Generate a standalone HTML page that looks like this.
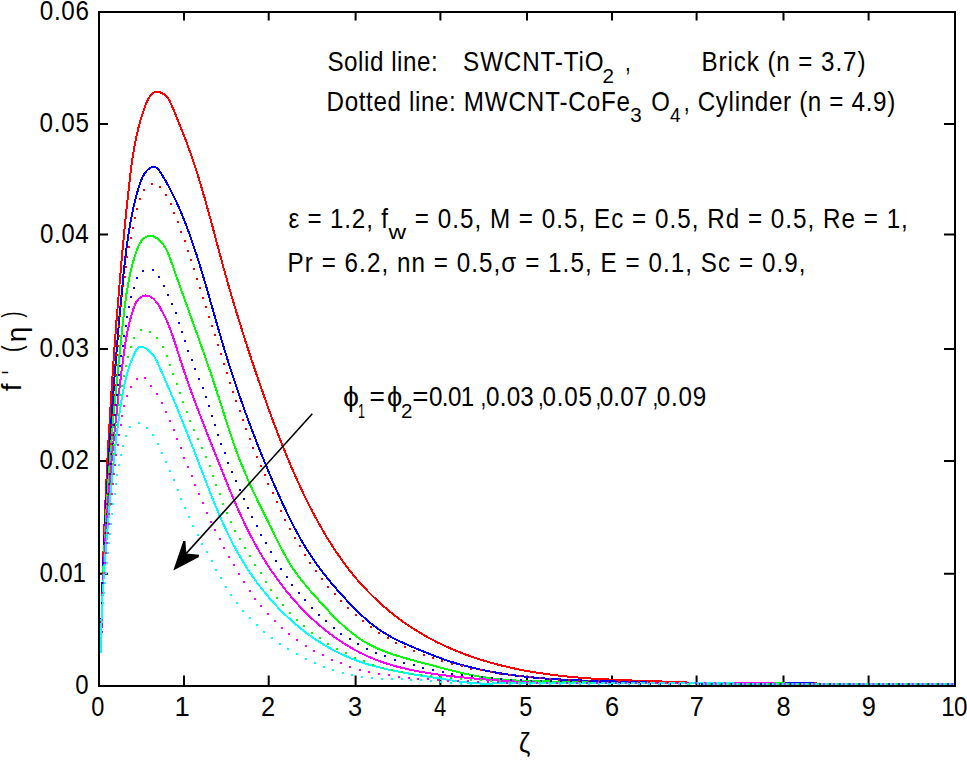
<!DOCTYPE html>
<html><head><meta charset="utf-8"><title>plot</title><style>html,body{margin:0;padding:0;background:#fff;}body{width:967px;height:760px;overflow:hidden;}svg{display:block;}</style></head><body><svg width="967" height="760" viewBox="0 0 967 760">
<rect x="0" y="0" width="967" height="760" fill="#fff"/>
<path d="M184.0 686.0V675.5M184.0 12.0V20.5M268.7 686.0V675.5M268.7 12.0V20.5M355.6 686.0V675.5M355.6 12.0V20.5M440.4 686.0V675.5M440.4 12.0V20.5M527.0 686.0V675.5M527.0 12.0V20.5M612.0 686.0V675.5M612.0 12.0V20.5M696.6 686.0V675.5M696.6 12.0V20.5M783.5 686.0V675.5M783.5 12.0V20.5M868.6 686.0V675.5M868.6 12.0V20.5M99.0 573.8H108.0M955.0 573.8H944.0M99.0 461.1H108.0M955.0 461.1H944.0M99.0 348.9H108.0M955.0 348.9H944.0M99.0 234.5H108.0M955.0 234.5H944.0M99.0 124.0H108.0M955.0 124.0H944.0" stroke="#000" stroke-width="2" fill="none"/>
<defs><clipPath id="pc"><rect x="100" y="13" width="854" height="672"/></clipPath></defs><g clip-path="url(#pc)" shape-rendering="crispEdges" fill="none" stroke-width="2" stroke-linejoin="miter" stroke-linecap="butt"><path d="M101.0 653.0L101.0 651.5L101.0 650.0L101.1 648.5L101.1 647.0L101.1 645.5L101.1 644.0L101.2 642.5L101.2 641.0L101.2 639.5L101.2 638.0L101.3 636.5L101.3 635.0L101.3 633.5L101.3 632.0L101.4 630.5L101.4 629.0L101.4 627.5L101.4 626.0L101.5 624.5L101.5 623.0L101.5 621.5L101.6 620.0L101.6 618.5L101.6 617.0L101.7 615.5L101.7 614.0L101.7 612.5L101.8 611.0L101.8 609.5L101.8 608.0L101.9 606.5L101.9 605.0L101.9 603.5L102.0 602.0L102.0 600.5L102.0 599.0L102.1 597.5L102.1 596.0L102.2 594.5L102.2 593.0L102.2 591.5L102.3 590.0L102.3 588.5L102.4 587.0L102.4 585.6L102.4 584.1L102.5 582.6L102.5 581.1L102.6 579.6L102.6 578.1L102.7 576.6L102.7 575.1L102.7 573.6L102.8 572.1L102.8 570.6L102.9 569.1L102.9 567.6L103.0 566.1L103.0 564.6L103.1 563.1L103.1 561.6L103.2 560.1L103.2 558.6L103.3 557.1L103.3 555.6L103.4 554.1L103.4 552.6L103.5 551.1L103.5 549.6L103.6 548.1L103.6 546.6L103.7 545.1L103.7 543.6L103.8 542.1L103.8 540.6L103.9 539.1L104.0 537.6L104.0 536.1L104.1 534.6L104.1 533.1L104.2 531.6L104.2 530.1L104.3 528.6L104.4 527.1L104.4 525.6L104.5 524.1L104.5 522.6L104.6 521.1L104.7 519.6L104.7 518.1L104.8 516.6L104.8 515.1L104.9 513.6L105.0 512.1L105.0 510.6L105.1 509.1L105.2 507.6L105.2 506.1L105.3 504.6L105.4 503.1L105.4 501.6L105.5 500.2L105.6 498.7L105.6 497.2L105.7 495.7L105.8 494.2L105.8 492.7L105.9 491.2L106.0 489.7L106.0 488.2L106.1 486.7L106.2 485.2L106.2 483.7L106.3 482.2L106.4 480.7L106.5 479.2L106.5 477.7L106.6 476.2L106.7 474.7L106.8 473.2L106.8 471.7L106.9 470.2L107.0 468.7L107.1 467.2L107.1 465.7L107.2 464.2L107.3 462.7L107.4 461.2L107.4 459.7L107.5 458.2L107.6 456.7L107.7 455.2L107.8 453.7L107.8 452.2L107.9 450.7L108.0 449.2L108.1 447.7L108.2 446.2L108.3 444.7L108.3 443.3L108.4 441.8L108.5 440.3L108.6 438.8L108.7 437.3L108.8 435.8L108.8 434.3L108.9 432.8L109.0 431.3L109.1 429.8L109.2 428.3L109.3 426.8L109.4 425.3L109.5 423.8L109.5 422.3L109.6 420.8L109.7 419.3L109.8 417.8L109.9 416.3L110.0 414.8L110.1 413.3L110.2 411.8L110.3 410.3L110.4 408.8L110.5 407.3L110.5 405.8L110.6 404.3L110.7 402.8L110.8 401.3L110.9 399.9L111.0 398.4L111.1 396.9L111.2 395.4L111.3 393.9L111.4 392.4L111.5 390.9L111.6 389.4L111.7 387.9L111.8 386.4L111.9 384.9L112.0 383.4L112.1 381.9L112.2 380.4L112.3 378.9L112.4 377.4L112.5 375.9L112.6 374.4L112.7 372.9L112.8 371.4L112.9 369.9L113.0 368.4L113.1 366.9L113.2 365.4L113.3 364.0L113.4 362.5L113.5 361.0L113.6 359.5L113.8 358.0L113.9 356.5L114.0 355.0L114.1 353.5L114.2 352.0L114.3 350.5L114.4 349.0L114.5 347.5L114.6 346.0L114.7 344.5L114.8 343.0L114.9 341.5L115.1 340.0L115.2 338.5L115.3 337.0L115.4 335.5L115.5 334.0L115.6 332.6L115.7 331.1L115.9 329.6L116.0 328.1L116.1 326.6L116.2 325.1L116.3 323.6L116.4 322.1L116.5 320.6L116.7 319.1L116.8 317.6L116.9 316.1L117.0 314.6L117.1 313.1L117.3 311.6L117.4 310.1L117.5 308.6L117.6 307.1L117.7 305.6L117.9 304.2L118.0 302.7L118.1 301.2L118.2 299.7L118.3 298.2L118.5 296.7L118.6 295.2L118.7 293.7L118.8 292.2L119.0 290.7L119.1 289.2L119.2 287.7L119.3 286.2L119.5 284.7L119.6 283.2L119.7 281.7L119.8 280.2L120.0 278.8L120.1 277.3L120.2 275.8L120.4 274.3L120.5 272.8L120.6 271.3L120.7 269.8L120.9 268.3L121.0 266.8L121.1 265.3L121.3 263.8L121.4 262.3L121.5 260.8L121.7 259.3L121.8 257.8L122.0 256.4L122.1 254.9L122.2 253.4L122.4 251.9L122.5 250.4L122.6 248.9L122.8 247.4L122.9 245.9L123.1 244.4L123.2 242.9L123.3 241.4L123.5 239.9L123.6 238.4L123.8 236.9L123.9 235.5L124.0 234.0L124.2 232.5L124.3 231.0L124.5 229.5L124.6 228.0L124.8 226.5L124.9 225.0L125.1 223.5L125.2 222.0L125.4 220.5L125.5 219.0L125.7 217.6L125.8 216.1L126.0 214.6L126.1 213.1L126.3 211.6L126.4 210.1L126.6 208.6L126.7 207.1L126.9 205.6L127.1 204.1L127.2 202.6L127.4 201.1L127.5 199.7L127.7 198.2L127.8 196.7L128.0 195.2L128.2 193.7L128.3 192.2L128.5 190.7L128.7 189.2L128.8 187.7L129.0 186.2L129.1 184.8L129.3 183.3L129.5 181.8L129.6 180.3L129.8 178.8L130.0 177.3L130.2 175.8L130.3 174.3L130.5 172.8L130.7 171.4L130.9 169.9L131.1 168.4L131.3 166.9L131.5 165.4L131.7 163.9L131.9 162.4L132.1 160.9L132.3 159.5L132.5 158.0L132.8 156.5L133.0 155.0L133.2 153.5L133.5 152.1L133.7 150.6L134.0 149.1L134.2 147.6L134.5 146.2L134.8 144.7L135.0 143.2L135.3 141.7L135.6 140.3L135.9 138.8L136.2 137.3L136.6 135.9L136.9 134.4L137.2 132.9L137.6 131.5L137.9 130.0L138.3 128.6L138.6 127.1L139.0 125.7L139.4 124.2L139.8 122.8L140.2 121.3L140.6 119.9L141.0 118.4L141.5 117.0L141.9 115.6L142.4 114.1L142.8 112.7L143.3 111.3L143.8 109.9L144.3 108.5L144.8 107.0L145.3 105.6L145.8 104.2L146.4 102.8L147.0 101.5L147.6 100.1L148.3 98.8L149.1 97.5L149.9 96.2L150.8 95.1L151.9 94.0L153.1 93.1L154.4 92.4L155.8 92.0L157.3 91.9L158.8 92.0L160.3 92.4L161.6 93.0L163.0 93.7L164.2 94.5L165.4 95.5L166.5 96.5L167.5 97.6L168.4 98.8L169.2 100.0L169.9 101.4L170.5 102.7L171.1 104.1L171.7 105.5L172.3 106.9L172.9 108.2L173.5 109.6L174.0 111.0L174.6 112.4L175.2 113.8L175.8 115.2L176.3 116.6L176.9 117.9L177.5 119.3L178.0 120.7L178.6 122.1L179.2 123.5L179.7 124.9L180.3 126.3L180.8 127.7L181.4 129.1L182.0 130.5L182.5 131.9L183.0 133.2L183.6 134.6L184.1 136.0L184.7 137.4L185.2 138.8L185.7 140.2L186.3 141.6L186.8 143.1L187.3 144.5L187.8 145.9L188.3 147.3L188.9 148.7L189.4 150.1L189.9 151.5L190.4 152.9L190.9 154.3L191.4 155.7L191.9 157.2L192.3 158.6L192.8 160.0L193.3 161.4L193.8 162.8L194.3 164.3L194.7 165.7L195.2 167.1L195.7 168.5L196.1 170.0L196.6 171.4L197.0 172.8L197.5 174.2L197.9 175.7L198.4 177.1L198.8 178.5L199.3 180.0L199.7 181.4L200.1 182.8L200.6 184.3L201.0 185.7L201.4 187.2L201.9 188.6L202.3 190.0L202.7 191.5L203.1 192.9L203.5 194.3L204.0 195.8L204.4 197.2L204.8 198.7L205.2 200.1L205.6 201.6L206.0 203.0L206.4 204.4L206.8 205.9L207.2 207.3L207.6 208.8L208.0 210.2L208.4 211.7L208.8 213.1L209.2 214.5L209.6 216.0L210.0 217.4L210.4 218.9L210.8 220.3L211.2 221.8L211.6 223.2L212.0 224.7L212.4 226.1L212.8 227.6L213.1 229.0L213.5 230.5L213.9 231.9L214.3 233.4L214.7 234.8L215.1 236.3L215.5 237.7L215.8 239.2L216.2 240.6L216.6 242.1L217.0 243.5L217.4 245.0L217.8 246.4L218.2 247.9L218.6 249.3L218.9 250.7L219.3 252.2L219.7 253.6L220.1 255.1L220.5 256.5L220.9 258.0L221.3 259.4L221.7 260.9L222.1 262.3L222.5 263.8L222.9 265.2L223.2 266.7L223.6 268.1L224.0 269.6L224.4 271.0L224.8 272.4L225.2 273.9L225.6 275.3L226.1 276.8L226.5 278.2L226.9 279.7L227.3 281.1L227.7 282.6L228.1 284.0L228.5 285.4L228.9 286.9L229.3 288.3L229.7 289.8L230.2 291.2L230.6 292.6L231.0 294.1L231.4 295.5L231.8 297.0L232.3 298.4L232.7 299.8L233.1 301.3L233.6 302.7L234.0 304.1L234.4 305.6L234.8 307.0L235.3 308.4L235.7 309.9L236.1 311.3L236.6 312.8L237.0 314.2L237.5 315.6L237.9 317.1L238.3 318.5L238.8 319.9L239.2 321.3L239.7 322.8L240.1 324.2L240.6 325.6L241.0 327.1L241.5 328.5L241.9 329.9L242.4 331.4L242.8 332.8L243.3 334.2L243.7 335.7L244.2 337.1L244.6 338.5L245.1 339.9L245.5 341.4L246.0 342.8L246.5 344.2L246.9 345.6L247.4 347.1L247.9 348.5L248.3 349.9L248.8 351.3L249.3 352.8L249.7 354.2L250.2 355.6L250.7 357.0L251.1 358.5L251.6 359.9L252.1 361.3L252.6 362.7L253.0 364.2L253.5 365.6L254.0 367.0L254.5 368.4L255.0 369.8L255.4 371.3L255.9 372.7L256.4 374.1L256.9 375.5L257.4 376.9L257.9 378.3L258.3 379.8L258.8 381.2L259.3 382.6L259.8 384.0L260.3 385.4L260.8 386.9L261.3 388.3L261.8 389.7L262.3 391.1L262.8 392.5L263.3 393.9L263.8 395.3L264.3 396.8L264.8 398.2L265.3 399.6L265.8 401.0L266.3 402.4L266.8 403.8L267.3 405.2L267.8 406.6L268.3 408.1L268.8 409.5L269.3 410.9L269.8 412.3L270.3 413.7L270.8 415.1L271.4 416.5L271.9 417.9L272.4 419.3L272.9 420.7L273.4 422.1L274.0 423.5L274.5 424.9L275.0 426.3L275.6 427.7L276.1 429.1L276.6 430.5L277.2 431.9L277.7 433.3L278.2 434.7L278.8 436.1L279.3 437.5L279.9 438.9L280.4 440.3L281.0 441.7L281.5 443.1L282.1 444.5L282.6 445.9L283.2 447.3L283.7 448.7L284.3 450.1L284.9 451.5L285.4 452.9L286.0 454.2L286.6 455.6L287.1 457.0L287.7 458.4L288.3 459.8L288.9 461.2L289.5 462.5L290.1 463.9L290.6 465.3L291.2 466.7L291.8 468.1L292.4 469.4L293.0 470.8L293.6 472.2L294.2 473.6L294.8 474.9L295.4 476.3L296.1 477.7L296.7 479.0L297.3 480.4L297.9 481.8L298.5 483.1L299.2 484.5L299.8 485.8L300.4 487.2L301.1 488.6L301.7 489.9L302.3 491.3L303.0 492.6L303.6 494.0L304.3 495.3L304.9 496.7L305.6 498.0L306.3 499.4L306.9 500.7L307.6 502.1L308.3 503.4L308.9 504.7L309.6 506.1L310.3 507.4L311.0 508.7L311.7 510.1L312.3 511.4L313.0 512.7L313.7 514.1L314.4 515.4L315.2 516.7L315.9 518.0L316.6 519.3L317.3 520.7L318.0 522.0L318.7 523.3L319.5 524.6L320.2 525.9L320.9 527.2L321.7 528.5L322.4 529.8L323.2 531.1L323.9 532.4L324.7 533.7L325.5 535.0L326.2 536.3L327.0 537.6L327.8 538.8L328.6 540.1L329.4 541.4L330.2 542.7L331.0 543.9L331.8 545.2L332.6 546.4L333.4 547.7L334.2 549.0L335.1 550.2L335.9 551.5L336.7 552.7L337.6 553.9L338.4 555.2L339.3 556.4L340.1 557.6L341.0 558.9L341.9 560.1L342.7 561.3L343.6 562.5L344.5 563.7L345.4 564.9L346.3 566.1L347.2 567.3L348.1 568.5L349.1 569.7L350.0 570.9L350.9 572.0L351.8 573.2L352.8 574.4L353.7 575.5L354.7 576.7L355.7 577.8L356.6 579.0L357.6 580.1L358.6 581.3L359.6 582.4L360.6 583.5L361.6 584.6L362.6 585.7L363.6 586.8L364.6 587.9L365.6 589.0L366.7 590.1L367.7 591.2L368.8 592.3L369.8 593.3L370.9 594.4L371.9 595.5L373.0 596.5L374.1 597.5L375.2 598.6L376.2 599.6L377.3 600.6L378.4 601.7L379.5 602.7L380.6 603.7L381.8 604.7L382.9 605.7L384.0 606.7L385.1 607.6L386.3 608.6L387.4 609.6L388.6 610.6L389.7 611.5L390.9 612.5L392.1 613.4L393.2 614.3L394.4 615.3L395.6 616.2L396.8 617.1L398.0 618.0L399.2 618.9L400.4 619.8L401.6 620.7L402.8 621.5L404.0 622.4L405.3 623.3L406.5 624.1L407.7 625.0L409.0 625.8L410.2 626.7L411.5 627.5L412.7 628.3L414.0 629.1L415.3 629.9L416.5 630.7L417.8 631.5L419.1 632.3L420.4 633.0L421.7 633.8L423.0 634.6L424.3 635.3L425.6 636.1L426.9 636.8L428.2 637.5L429.5 638.2L430.8 638.9L432.1 639.6L433.5 640.3L434.8 641.0L436.1 641.7L437.5 642.4L438.8 643.0L440.2 643.7L441.5 644.3L442.9 645.0L444.2 645.6L445.6 646.2L447.0 646.9L448.3 647.5L449.7 648.1L451.1 648.7L452.5 649.3L453.8 649.9L455.2 650.4L456.6 651.0L458.0 651.6L459.4 652.1L460.8 652.7L462.2 653.2L463.6 653.7L465.0 654.3L466.4 654.8L467.8 655.3L469.2 655.8L470.6 656.3L472.0 656.8L473.5 657.3L474.9 657.8L476.3 658.2L477.7 658.7L479.2 659.2L480.6 659.6L482.0 660.1L483.4 660.5L484.9 660.9L486.3 661.4L487.8 661.8L489.2 662.2L490.6 662.6L492.1 663.0L493.5 663.4L495.0 663.8L496.4 664.2L497.9 664.6L499.3 665.0L500.8 665.3L502.2 665.7L503.7 666.0L505.1 666.4L506.6 666.7L508.1 667.1L509.5 667.4L511.0 667.7L512.5 668.1L513.9 668.4L515.4 668.7L516.9 669.0L518.3 669.3L519.8 669.6L521.3 669.9L522.7 670.2L524.2 670.5L525.7 670.7L527.2 671.0L528.6 671.3L530.1 671.5L531.6 671.8L533.1 672.0L534.5 672.3L536.0 672.5L537.5 672.7L539.0 673.0L540.5 673.2L542.0 673.4L543.4 673.6L544.9 673.8L546.4 674.0L547.9 674.2L549.4 674.4L550.9 674.6L552.4 674.8L553.8 675.0L555.3 675.2L556.8 675.4L558.3 675.5L559.8 675.7L561.3 675.9L562.8 676.0L564.3 676.2L565.8 676.3L567.3 676.5L568.7 676.6L570.2 676.8L571.7 676.9L573.2 677.1L574.7 677.2L576.2 677.3L577.7 677.5L579.2 677.6L580.7 677.7L582.2 677.8L583.7 677.9L585.2 678.0L586.7 678.2L588.2 678.3L589.7 678.4L591.2 678.5L592.7 678.6L594.1 678.7L595.6 678.8L597.1 678.8L598.6 678.9L600.1 679.0L601.6 679.1L603.1 679.2L604.6 679.3L606.1 679.4L607.6 679.4L609.1 679.5L610.6 679.6L612.1 679.7L613.6 679.7L615.1 679.8L616.6 679.9L618.1 679.9L619.6 680.0L621.1 680.1L622.6 680.1L624.1 680.2L625.6 680.2L627.1 680.3L628.6 680.4L630.1 680.4L631.6 680.5L633.1 680.5L634.6 680.6L636.1 680.6L637.6 680.7L639.1 680.7L640.6 680.8L642.1 680.8L643.6 680.9L645.1 680.9L646.6 681.0L648.1 681.0L649.6 681.1L651.1 681.1L652.6 681.2L654.1 681.2L655.6 681.3L657.1 681.3L658.6 681.4L660.1 681.4L661.6 681.5L663.0 681.5L664.5 681.6L666.0 681.6L667.5 681.7L669.0 681.8L670.5 681.8L672.0 681.9L673.5 681.9L675.0 682.0L676.5 682.0L678.0 682.1L679.5 682.2L681.0 682.2L682.5 682.3L684.0 682.3L685.5 682.4L687.0 682.5L688.5 682.5L690.0 682.6L691.5 682.7L693.0 682.8L694.5 682.8L696.0 682.9L697.5 683.0L699.0 683.1L960.0 684.0" stroke="#ff0000"/><path d="M101.0 653.0L101.0 651.5L101.0 650.0L101.0 648.5L101.0 647.0L101.1 645.5L101.1 644.0L101.1 642.5L101.1 641.0L101.1 639.5L101.1 638.0L101.2 636.5L101.2 635.0L101.2 633.5L101.2 632.0L101.3 630.5L101.3 629.0L101.3 627.5L101.3 626.0L101.4 624.5L101.4 623.0L101.4 621.5L101.4 620.0L101.5 618.5L101.5 617.0L101.5 615.5L101.6 614.0L101.6 612.5L101.6 611.0L101.7 609.5L101.7 608.0L101.8 606.5L101.8 605.0L101.8 603.5L101.9 602.0L101.9 600.5L102.0 599.0L102.0 597.5L102.0 596.0L102.1 594.5L102.1 593.0L102.2 591.5L102.2 590.0L102.3 588.5L102.3 587.0L102.4 585.5L102.4 584.0L102.5 582.5L102.5 581.0L102.6 579.5L102.6 578.0L102.7 576.5L102.7 575.0L102.8 573.5L102.9 572.0L102.9 570.5L103.0 569.0L103.0 567.6L103.1 566.1L103.2 564.6L103.2 563.1L103.3 561.6L103.3 560.1L103.4 558.6L103.5 557.1L103.5 555.6L103.6 554.1L103.7 552.6L103.7 551.1L103.8 549.6L103.9 548.1L103.9 546.6L104.0 545.1L104.1 543.6L104.1 542.1L104.2 540.6L104.3 539.1L104.3 537.6L104.4 536.1L104.5 534.6L104.6 533.1L104.6 531.6L104.7 530.1L104.8 528.6L104.9 527.1L104.9 525.6L105.0 524.1L105.1 522.6L105.2 521.1L105.3 519.6L105.3 518.1L105.4 516.6L105.5 515.1L105.6 513.6L105.7 512.1L105.7 510.6L105.8 509.1L105.9 507.6L106.0 506.1L106.1 504.6L106.2 503.1L106.2 501.6L106.3 500.1L106.4 498.7L106.5 497.2L106.6 495.7L106.7 494.2L106.8 492.7L106.8 491.2L106.9 489.7L107.0 488.2L107.1 486.7L107.2 485.2L107.3 483.7L107.4 482.2L107.5 480.7L107.6 479.2L107.6 477.7L107.7 476.2L107.8 474.7L107.9 473.2L108.0 471.7L108.1 470.2L108.2 468.7L108.3 467.2L108.4 465.7L108.5 464.2L108.6 462.7L108.7 461.2L108.8 459.7L108.9 458.2L109.0 456.7L109.1 455.2L109.2 453.7L109.2 452.3L109.3 450.8L109.4 449.3L109.5 447.8L109.6 446.3L109.7 444.8L109.8 443.3L109.9 441.8L110.0 440.3L110.1 438.8L110.2 437.3L110.3 435.8L110.4 434.3L110.5 432.8L110.6 431.3L110.7 429.8L110.8 428.3L110.9 426.8L111.0 425.3L111.1 423.8L111.2 422.3L111.3 420.8L111.4 419.3L111.5 417.8L111.7 416.3L111.8 414.8L111.9 413.4L112.0 411.9L112.1 410.4L112.2 408.9L112.3 407.4L112.4 405.9L112.5 404.4L112.6 402.9L112.7 401.4L112.8 399.9L112.9 398.4L113.0 396.9L113.1 395.4L113.2 393.9L113.4 392.4L113.5 390.9L113.6 389.4L113.7 387.9L113.8 386.4L113.9 384.9L114.0 383.4L114.1 381.9L114.2 380.4L114.4 379.0L114.5 377.5L114.6 376.0L114.7 374.5L114.8 373.0L114.9 371.5L115.0 370.0L115.2 368.5L115.3 367.0L115.4 365.5L115.5 364.0L115.6 362.5L115.7 361.0L115.9 359.5L116.0 358.0L116.1 356.5L116.2 355.0L116.3 353.5L116.5 352.0L116.6 350.5L116.7 349.1L116.8 347.6L117.0 346.1L117.1 344.6L117.2 343.1L117.3 341.6L117.5 340.1L117.6 338.6L117.7 337.1L117.8 335.6L118.0 334.1L118.1 332.6L118.2 331.1L118.3 329.6L118.5 328.1L118.6 326.6L118.7 325.1L118.9 323.6L119.0 322.2L119.1 320.7L119.3 319.2L119.4 317.7L119.5 316.2L119.7 314.7L119.8 313.2L119.9 311.7L120.1 310.2L120.2 308.7L120.3 307.2L120.5 305.7L120.6 304.2L120.8 302.7L120.9 301.2L121.0 299.8L121.2 298.3L121.3 296.8L121.5 295.3L121.6 293.8L121.7 292.3L121.9 290.8L122.0 289.3L122.2 287.8L122.3 286.3L122.5 284.8L122.6 283.3L122.8 281.8L122.9 280.3L123.1 278.9L123.2 277.4L123.4 275.9L123.5 274.4L123.7 272.9L123.8 271.4L124.0 269.9L124.1 268.4L124.3 266.9L124.5 265.4L124.6 263.9L124.8 262.5L125.0 261.0L125.1 259.5L125.3 258.0L125.5 256.5L125.7 255.0L125.8 253.5L126.0 252.0L126.2 250.5L126.4 249.1L126.6 247.6L126.8 246.1L127.0 244.6L127.2 243.1L127.4 241.6L127.6 240.1L127.8 238.7L128.0 237.2L128.3 235.7L128.5 234.2L128.7 232.7L129.0 231.2L129.2 229.8L129.4 228.3L129.7 226.8L130.0 225.3L130.2 223.8L130.5 222.4L130.7 220.9L131.0 219.4L131.3 218.0L131.6 216.5L131.9 215.0L132.2 213.5L132.5 212.1L132.8 210.6L133.1 209.1L133.4 207.7L133.8 206.2L134.1 204.7L134.4 203.3L134.8 201.8L135.2 200.4L135.5 198.9L135.9 197.5L136.3 196.0L136.7 194.6L137.0 193.1L137.4 191.7L137.9 190.2L138.3 188.8L138.7 187.4L139.1 185.9L139.6 184.5L140.0 183.1L140.6 181.7L141.1 180.3L141.7 178.9L142.3 177.5L143.0 176.2L143.8 174.9L144.6 173.6L145.4 172.4L146.4 171.2L147.4 170.1L148.5 169.1L149.7 168.2L151.0 167.6L152.5 167.1L154.0 167.0L155.4 167.2L156.8 167.8L158.0 168.7L158.9 169.9L159.7 171.1L160.5 172.4L161.3 173.7L162.1 175.0L162.9 176.2L163.6 177.5L164.4 178.8L165.1 180.1L165.9 181.4L166.6 182.7L167.3 184.0L168.1 185.4L168.8 186.7L169.5 188.0L170.2 189.3L170.9 190.7L171.5 192.0L172.2 193.3L172.9 194.7L173.6 196.0L174.2 197.4L174.9 198.7L175.5 200.1L176.1 201.4L176.8 202.8L177.4 204.2L178.0 205.5L178.6 206.9L179.2 208.3L179.8 209.7L180.4 211.0L181.0 212.4L181.6 213.8L182.2 215.2L182.7 216.6L183.3 217.9L183.9 219.3L184.4 220.7L185.0 222.1L185.5 223.5L186.0 224.9L186.6 226.3L187.1 227.7L187.6 229.1L188.2 230.5L188.7 231.9L189.2 233.4L189.7 234.8L190.2 236.2L190.7 237.6L191.2 239.0L191.7 240.4L192.2 241.8L192.7 243.3L193.2 244.7L193.6 246.1L194.1 247.5L194.6 248.9L195.1 250.4L195.5 251.8L196.0 253.2L196.5 254.6L196.9 256.1L197.4 257.5L197.8 258.9L198.3 260.4L198.7 261.8L199.2 263.2L199.6 264.6L200.1 266.1L200.5 267.5L200.9 268.9L201.4 270.4L201.8 271.8L202.2 273.3L202.7 274.7L203.1 276.1L203.5 277.6L204.0 279.0L204.4 280.4L204.8 281.9L205.2 283.3L205.7 284.8L206.1 286.2L206.5 287.6L206.9 289.1L207.3 290.5L207.7 292.0L208.2 293.4L208.6 294.8L209.0 296.3L209.4 297.7L209.8 299.2L210.2 300.6L210.6 302.0L211.1 303.5L211.5 304.9L211.9 306.4L212.3 307.8L212.7 309.3L213.1 310.7L213.5 312.1L213.9 313.6L214.3 315.0L214.8 316.5L215.2 317.9L215.6 319.4L216.0 320.8L216.4 322.2L216.8 323.7L217.2 325.1L217.6 326.6L218.1 328.0L218.5 329.4L218.9 330.9L219.3 332.3L219.7 333.8L220.2 335.2L220.6 336.6L221.0 338.1L221.4 339.5L221.8 341.0L222.3 342.4L222.7 343.8L223.1 345.3L223.6 346.7L224.0 348.1L224.4 349.6L224.9 351.0L225.3 352.4L225.8 353.9L226.2 355.3L226.6 356.7L227.1 358.2L227.5 359.6L228.0 361.0L228.4 362.5L228.9 363.9L229.4 365.3L229.8 366.7L230.3 368.2L230.7 369.6L231.2 371.0L231.7 372.5L232.1 373.9L232.6 375.3L233.1 376.7L233.5 378.2L234.0 379.6L234.5 381.0L235.0 382.4L235.4 383.8L235.9 385.3L236.4 386.7L236.9 388.1L237.4 389.5L237.8 390.9L238.3 392.4L238.8 393.8L239.3 395.2L239.8 396.6L240.3 398.0L240.8 399.4L241.3 400.9L241.8 402.3L242.3 403.7L242.8 405.1L243.3 406.5L243.8 407.9L244.3 409.3L244.8 410.7L245.3 412.2L245.8 413.6L246.4 415.0L246.9 416.4L247.4 417.8L247.9 419.2L248.4 420.6L249.0 422.0L249.5 423.4L250.0 424.8L250.5 426.2L251.1 427.6L251.6 429.0L252.1 430.4L252.6 431.8L253.2 433.2L253.7 434.6L254.3 436.0L254.8 437.4L255.3 438.8L255.9 440.2L256.4 441.6L257.0 443.0L257.5 444.4L258.1 445.8L258.6 447.2L259.2 448.6L259.7 450.0L260.3 451.4L260.8 452.8L261.4 454.2L262.0 455.6L262.5 456.9L263.1 458.3L263.7 459.7L264.2 461.1L264.8 462.5L265.4 463.9L265.9 465.3L266.5 466.7L267.1 468.0L267.7 469.4L268.3 470.8L268.8 472.2L269.4 473.6L270.0 475.0L270.6 476.3L271.2 477.7L271.8 479.1L272.4 480.5L273.0 481.8L273.6 483.2L274.2 484.6L274.8 486.0L275.4 487.3L276.0 488.7L276.6 490.1L277.2 491.5L277.8 492.8L278.4 494.2L279.0 495.6L279.6 496.9L280.2 498.3L280.9 499.7L281.5 501.0L282.1 502.4L282.7 503.8L283.4 505.1L284.0 506.5L284.6 507.8L285.3 509.2L285.9 510.5L286.5 511.9L287.2 513.3L287.9 514.6L288.5 516.0L289.2 517.3L289.8 518.6L290.5 520.0L291.2 521.3L291.8 522.7L292.5 524.0L293.2 525.3L293.9 526.7L294.6 528.0L295.3 529.3L296.0 530.6L296.7 532.0L297.4 533.3L298.2 534.6L298.9 535.9L299.6 537.2L300.3 538.5L301.1 539.8L301.8 541.1L302.6 542.4L303.4 543.7L304.1 545.0L304.9 546.3L305.7 547.6L306.5 548.8L307.3 550.1L308.1 551.4L308.9 552.7L309.7 553.9L310.5 555.2L311.3 556.4L312.2 557.7L313.0 558.9L313.8 560.1L314.7 561.4L315.6 562.6L316.4 563.8L317.3 565.0L318.2 566.3L319.1 567.5L320.0 568.7L320.9 569.9L321.8 571.1L322.7 572.2L323.6 573.4L324.5 574.6L325.5 575.8L326.4 577.0L327.3 578.1L328.3 579.3L329.2 580.4L330.2 581.6L331.2 582.8L332.1 583.9L333.1 585.0L334.1 586.2L335.1 587.3L336.0 588.4L337.0 589.6L338.0 590.7L339.0 591.8L340.0 592.9L341.0 594.0L342.0 595.2L343.0 596.3L344.1 597.4L345.1 598.5L346.1 599.6L347.1 600.7L348.2 601.8L349.2 602.8L350.2 603.9L351.3 605.0L352.3 606.1L353.3 607.2L354.4 608.2L355.5 609.3L356.5 610.4L357.6 611.4L358.7 612.5L359.7 613.5L360.8 614.5L361.9 615.6L363.0 616.6L364.1 617.6L365.3 618.6L366.4 619.6L367.5 620.6L368.7 621.5L369.8 622.5L371.0 623.4L372.1 624.4L373.3 625.3L374.5 626.2L375.7 627.1L376.9 628.0L378.1 628.9L379.4 629.7L380.6 630.6L381.9 631.4L383.1 632.2L384.4 633.0L385.7 633.8L387.0 634.5L388.3 635.3L389.6 636.0L390.9 636.8L392.2 637.5L393.5 638.2L394.9 638.8L396.2 639.5L397.5 640.2L398.9 640.8L400.2 641.5L401.6 642.1L403.0 642.8L404.3 643.4L405.7 644.0L407.1 644.6L408.4 645.2L409.8 645.8L411.2 646.4L412.6 647.0L414.0 647.5L415.3 648.1L416.7 648.7L418.1 649.3L419.5 649.9L420.9 650.4L422.3 651.0L423.7 651.6L425.0 652.1L426.4 652.7L427.8 653.3L429.2 653.8L430.6 654.4L432.0 654.9L433.4 655.5L434.8 656.0L436.2 656.6L437.6 657.1L439.0 657.6L440.4 658.1L441.8 658.6L443.2 659.1L444.6 659.6L446.1 660.1L447.5 660.6L448.9 661.1L450.3 661.5L451.8 662.0L453.2 662.4L454.6 662.9L456.1 663.3L457.5 663.8L458.9 664.2L460.4 664.6L461.8 665.0L463.3 665.4L464.7 665.8L466.2 666.2L467.6 666.5L469.1 666.9L470.5 667.3L472.0 667.6L473.4 668.0L474.9 668.3L476.4 668.7L477.8 669.0L479.3 669.3L480.8 669.7L482.2 670.0L483.7 670.3L485.2 670.6L486.6 670.9L488.1 671.2L489.6 671.4L491.0 671.7L492.5 672.0L494.0 672.3L495.5 672.5L496.9 672.8L498.4 673.0L499.9 673.3L501.4 673.5L502.9 673.7L504.3 674.0L505.8 674.2L507.3 674.4L508.8 674.6L510.3 674.8L511.8 675.0L513.3 675.2L514.7 675.4L516.2 675.6L517.7 675.8L519.2 676.0L520.7 676.2L522.2 676.3L523.7 676.5L525.2 676.7L526.7 676.8L528.2 677.0L529.6 677.1L531.1 677.3L532.6 677.4L534.1 677.6L535.6 677.7L537.1 677.8L538.6 678.0L540.1 678.1L541.6 678.2L543.1 678.3L544.6 678.5L546.1 678.6L547.6 678.7L549.1 678.8L550.6 678.9L552.1 679.0L553.6 679.1L555.1 679.2L556.6 679.3L558.0 679.4L559.5 679.4L561.0 679.5L562.5 679.6L564.0 679.7L565.5 679.8L567.0 679.8L568.5 679.9L570.0 680.0L571.5 680.1L573.0 680.1L574.5 680.2L576.0 680.2L577.5 680.3L579.0 680.4L580.5 680.4L582.0 680.5L583.5 680.5L585.0 680.6L586.5 680.6L588.0 680.7L589.5 680.8L591.0 680.8L592.5 680.8L594.0 680.9L595.5 680.9L597.0 681.0L598.5 681.0L600.0 681.1L601.5 681.1L603.0 681.2L604.5 681.2L606.0 681.2L607.5 681.3L609.0 681.3L610.5 681.4L612.0 681.4L613.5 681.4L615.0 681.5L616.5 681.5L618.0 681.6L619.5 681.6L621.0 681.7L622.5 681.7L624.0 681.7L625.5 681.8L627.0 681.8L628.5 681.9L630.0 681.9L631.5 682.0L633.0 682.0L634.5 682.0L636.0 682.1L637.5 682.1L639.0 682.2L640.5 682.2L642.0 682.3L643.5 682.3L645.0 682.4L646.5 682.5L648.0 682.5L649.5 682.6L651.0 682.6L652.5 682.7L654.0 682.8L655.5 682.8L657.0 682.9L658.5 683.0L659.9 683.0L960.0 684.0" stroke="#0000ff"/><path d="M101.0 653.0L101.0 651.5L101.0 650.0L101.1 648.5L101.1 647.0L101.1 645.5L101.1 644.0L101.2 642.5L101.2 641.0L101.2 639.5L101.2 638.0L101.3 636.5L101.3 635.0L101.3 633.5L101.4 632.0L101.4 630.5L101.4 629.0L101.5 627.5L101.5 626.0L101.5 624.5L101.6 623.0L101.6 621.5L101.6 620.0L101.7 618.5L101.7 617.0L101.7 615.5L101.8 614.0L101.8 612.5L101.9 611.0L101.9 609.5L102.0 608.0L102.0 606.5L102.0 605.0L102.1 603.5L102.1 602.0L102.2 600.5L102.2 599.0L102.3 597.5L102.3 596.0L102.4 594.6L102.4 593.1L102.5 591.6L102.5 590.1L102.6 588.6L102.7 587.1L102.7 585.6L102.8 584.1L102.8 582.6L102.9 581.1L102.9 579.6L103.0 578.1L103.1 576.6L103.1 575.1L103.2 573.6L103.2 572.1L103.3 570.6L103.4 569.1L103.4 567.6L103.5 566.1L103.6 564.6L103.6 563.1L103.7 561.6L103.8 560.1L103.8 558.6L103.9 557.1L104.0 555.6L104.0 554.1L104.1 552.6L104.2 551.1L104.3 549.6L104.3 548.1L104.4 546.6L104.5 545.1L104.6 543.6L104.6 542.1L104.7 540.6L104.8 539.1L104.9 537.6L105.0 536.1L105.0 534.6L105.1 533.1L105.2 531.7L105.3 530.2L105.4 528.7L105.4 527.2L105.5 525.7L105.6 524.2L105.7 522.7L105.8 521.2L105.9 519.7L106.0 518.2L106.1 516.7L106.1 515.2L106.2 513.7L106.3 512.2L106.4 510.7L106.5 509.2L106.6 507.7L106.7 506.2L106.8 504.7L106.9 503.2L107.0 501.7L107.1 500.2L107.2 498.7L107.3 497.2L107.4 495.7L107.5 494.2L107.6 492.7L107.7 491.2L107.8 489.8L107.9 488.3L108.0 486.8L108.1 485.3L108.2 483.8L108.3 482.3L108.4 480.8L108.5 479.3L108.6 477.8L108.7 476.3L108.8 474.8L108.9 473.3L109.0 471.8L109.1 470.3L109.2 468.8L109.4 467.3L109.5 465.8L109.6 464.3L109.7 462.8L109.8 461.3L109.9 459.8L110.0 458.4L110.2 456.9L110.3 455.4L110.4 453.9L110.5 452.4L110.6 450.9L110.7 449.4L110.9 447.9L111.0 446.4L111.1 444.9L111.2 443.4L111.3 441.9L111.5 440.4L111.6 438.9L111.7 437.4L111.8 435.9L112.0 434.4L112.1 432.9L112.2 431.5L112.3 430.0L112.5 428.5L112.6 427.0L112.7 425.5L112.8 424.0L113.0 422.5L113.1 421.0L113.2 419.5L113.4 418.0L113.5 416.5L113.6 415.0L113.8 413.5L113.9 412.0L114.0 410.5L114.2 409.1L114.3 407.6L114.4 406.1L114.6 404.6L114.7 403.1L114.8 401.6L115.0 400.1L115.1 398.6L115.3 397.1L115.4 395.6L115.5 394.1L115.7 392.6L115.8 391.1L116.0 389.6L116.1 388.2L116.2 386.7L116.4 385.2L116.5 383.7L116.7 382.2L116.8 380.7L117.0 379.2L117.1 377.7L117.3 376.2L117.4 374.7L117.6 373.2L117.7 371.7L117.9 370.3L118.0 368.8L118.2 367.3L118.3 365.8L118.5 364.3L118.6 362.8L118.8 361.3L118.9 359.8L119.1 358.3L119.2 356.8L119.4 355.3L119.5 353.8L119.7 352.4L119.8 350.9L120.0 349.4L120.2 347.9L120.3 346.4L120.5 344.9L120.6 343.4L120.8 341.9L121.0 340.4L121.1 338.9L121.3 337.4L121.4 336.0L121.6 334.5L121.8 333.0L121.9 331.5L122.1 330.0L122.3 328.5L122.4 327.0L122.6 325.5L122.7 324.0L122.9 322.5L123.1 321.1L123.2 319.6L123.4 318.1L123.6 316.6L123.8 315.1L123.9 313.6L124.1 312.1L124.3 310.6L124.4 309.1L124.6 307.7L124.8 306.2L125.0 304.7L125.2 303.2L125.4 301.7L125.6 300.2L125.8 298.7L126.0 297.2L126.2 295.8L126.4 294.3L126.6 292.8L126.9 291.3L127.1 289.8L127.4 288.4L127.6 286.9L127.9 285.4L128.1 283.9L128.4 282.5L128.7 281.0L129.0 279.5L129.2 278.0L129.6 276.6L129.9 275.1L130.2 273.6L130.5 272.2L130.9 270.7L131.2 269.3L131.6 267.8L131.9 266.3L132.3 264.9L132.7 263.5L133.1 262.0L133.5 260.6L133.9 259.1L134.4 257.7L134.8 256.3L135.3 254.8L135.8 253.4L136.2 252.0L136.7 250.6L137.2 249.2L137.8 247.8L138.3 246.4L138.9 245.0L139.6 243.7L140.4 242.4L141.2 241.1L142.2 240.0L143.2 238.9L144.4 237.9L145.6 237.1L147.0 236.5L148.4 236.0L149.9 235.8L151.4 235.9L152.8 236.2L154.2 236.8L155.6 237.4L156.9 238.2L158.1 239.1L159.2 240.1L160.3 241.1L161.3 242.2L162.3 243.3L163.2 244.5L164.1 245.7L164.9 247.0L165.6 248.3L166.3 249.6L167.0 251.0L167.6 252.3L168.2 253.7L168.8 255.1L169.3 256.5L169.9 257.9L170.4 259.3L170.9 260.7L171.4 262.1L171.9 263.5L172.4 265.0L172.9 266.4L173.4 267.8L173.9 269.2L174.3 270.6L174.8 272.0L175.3 273.4L175.8 274.9L176.3 276.3L176.8 277.7L177.4 279.1L177.9 280.5L178.4 281.9L178.9 283.3L179.4 284.7L179.9 286.2L180.4 287.6L180.9 289.0L181.4 290.4L181.9 291.8L182.4 293.2L182.9 294.6L183.4 296.0L183.9 297.4L184.4 298.9L184.9 300.3L185.4 301.7L185.9 303.1L186.5 304.5L187.0 305.9L187.5 307.3L188.0 308.7L188.5 310.1L189.0 311.6L189.5 313.0L190.0 314.4L190.5 315.8L191.0 317.2L191.5 318.6L192.0 320.0L192.5 321.4L193.1 322.8L193.6 324.3L194.1 325.7L194.6 327.1L195.1 328.5L195.6 329.9L196.1 331.3L196.6 332.7L197.1 334.1L197.6 335.5L198.1 337.0L198.6 338.4L199.1 339.8L199.6 341.2L200.1 342.6L200.6 344.0L201.1 345.4L201.6 346.8L202.1 348.3L202.6 349.7L203.1 351.1L203.6 352.5L204.1 353.9L204.6 355.3L205.1 356.7L205.6 358.2L206.1 359.6L206.6 361.0L207.1 362.4L207.5 363.8L208.0 365.2L208.5 366.7L209.0 368.1L209.5 369.5L210.0 370.9L210.5 372.3L210.9 373.8L211.4 375.2L211.9 376.6L212.4 378.0L212.8 379.4L213.3 380.9L213.8 382.3L214.3 383.7L214.7 385.1L215.2 386.6L215.7 388.0L216.1 389.4L216.6 390.8L217.1 392.3L217.5 393.7L218.0 395.1L218.5 396.5L218.9 398.0L219.4 399.4L219.8 400.8L220.3 402.2L220.7 403.7L221.2 405.1L221.6 406.5L222.1 408.0L222.6 409.4L223.0 410.8L223.5 412.3L223.9 413.7L224.4 415.1L224.8 416.5L225.3 418.0L225.7 419.4L226.2 420.8L226.6 422.3L227.1 423.7L227.5 425.1L228.0 426.5L228.5 428.0L228.9 429.4L229.4 430.8L229.9 432.2L230.3 433.7L230.8 435.1L231.3 436.5L231.8 437.9L232.2 439.3L232.7 440.8L233.2 442.2L233.7 443.6L234.2 445.0L234.7 446.4L235.2 447.8L235.7 449.2L236.2 450.7L236.8 452.1L237.3 453.5L237.8 454.9L238.3 456.3L238.9 457.7L239.4 459.1L240.0 460.5L240.5 461.9L241.1 463.2L241.6 464.6L242.2 466.0L242.8 467.4L243.4 468.8L243.9 470.2L244.5 471.6L245.1 472.9L245.7 474.3L246.3 475.7L246.9 477.1L247.4 478.5L248.0 479.8L248.6 481.2L249.3 482.6L249.9 483.9L250.5 485.3L251.1 486.7L251.7 488.0L252.3 489.4L253.0 490.8L253.6 492.1L254.2 493.5L254.9 494.8L255.5 496.2L256.2 497.6L256.8 498.9L257.4 500.3L258.1 501.6L258.7 503.0L259.4 504.3L260.1 505.7L260.7 507.0L261.4 508.3L262.0 509.7L262.7 511.0L263.4 512.4L264.0 513.7L264.7 515.1L265.4 516.4L266.0 517.8L266.7 519.1L267.4 520.4L268.0 521.8L268.7 523.1L269.4 524.5L270.0 525.8L270.7 527.1L271.4 528.5L272.1 529.8L272.7 531.2L273.4 532.5L274.1 533.9L274.7 535.2L275.4 536.5L276.0 537.9L276.7 539.2L277.4 540.6L278.0 541.9L278.7 543.3L279.4 544.6L280.1 545.9L280.7 547.3L281.4 548.6L282.1 549.9L282.8 551.3L283.5 552.6L284.2 553.9L284.9 555.2L285.7 556.5L286.4 557.8L287.1 559.1L287.9 560.4L288.7 561.7L289.4 563.0L290.2 564.3L291.0 565.6L291.9 566.8L292.7 568.1L293.5 569.3L294.4 570.5L295.2 571.8L296.1 573.0L297.0 574.2L297.9 575.4L298.8 576.6L299.7 577.8L300.6 579.0L301.5 580.2L302.4 581.3L303.4 582.5L304.3 583.7L305.3 584.8L306.2 586.0L307.2 587.1L308.2 588.3L309.1 589.4L310.1 590.6L311.1 591.7L312.1 592.8L313.1 593.9L314.1 595.1L315.1 596.2L316.1 597.3L317.1 598.4L318.1 599.5L319.1 600.7L320.1 601.8L321.1 602.9L322.1 604.0L323.1 605.1L324.1 606.2L325.1 607.3L326.1 608.4L327.1 609.5L328.2 610.6L329.2 611.7L330.2 612.8L331.3 613.9L332.3 615.0L333.3 616.0L334.4 617.1L335.4 618.2L336.5 619.2L337.6 620.3L338.7 621.3L339.7 622.4L340.8 623.4L341.9 624.4L343.0 625.4L344.1 626.4L345.3 627.4L346.4 628.4L347.5 629.4L348.7 630.3L349.8 631.3L351.0 632.2L352.2 633.2L353.4 634.1L354.6 635.0L355.8 635.9L357.0 636.8L358.2 637.6L359.4 638.5L360.7 639.3L362.0 640.1L363.2 640.9L364.5 641.7L365.8 642.5L367.1 643.2L368.4 643.9L369.7 644.6L371.1 645.3L372.4 646.0L373.7 646.7L375.1 647.3L376.5 647.9L377.8 648.6L379.2 649.2L380.6 649.7L382.0 650.3L383.4 650.9L384.7 651.4L386.1 652.0L387.6 652.5L389.0 653.0L390.4 653.5L391.8 654.0L393.2 654.5L394.6 654.9L396.1 655.4L397.5 655.8L398.9 656.3L400.4 656.7L401.8 657.2L403.2 657.6L404.7 658.0L406.1 658.4L407.6 658.8L409.0 659.2L410.4 659.6L411.9 660.0L413.3 660.4L414.8 660.8L416.2 661.2L417.7 661.6L419.1 661.9L420.6 662.3L422.0 662.7L423.5 663.1L424.9 663.5L426.4 663.8L427.8 664.2L429.3 664.6L430.7 665.0L432.2 665.4L433.6 665.7L435.1 666.1L436.5 666.5L438.0 666.9L439.4 667.3L440.9 667.7L442.3 668.0L443.8 668.4L445.2 668.8L446.7 669.2L448.1 669.5L449.6 669.9L451.0 670.3L452.5 670.7L453.9 671.0L455.4 671.4L456.9 671.7L458.3 672.1L459.8 672.4L461.2 672.8L462.7 673.1L464.2 673.5L465.6 673.8L467.1 674.1L468.5 674.4L470.0 674.7L471.5 675.0L473.0 675.3L474.4 675.6L475.9 675.9L477.4 676.2L478.8 676.4L480.3 676.7L481.8 676.9L483.3 677.2L484.8 677.4L486.2 677.6L487.7 677.8L489.2 678.0L490.7 678.2L492.2 678.4L493.7 678.6L495.2 678.8L496.7 678.9L498.2 679.1L499.6 679.2L501.1 679.4L502.6 679.5L504.1 679.6L505.6 679.8L507.1 679.9L508.6 680.0L510.1 680.1L511.6 680.2L513.1 680.3L514.6 680.4L516.1 680.5L517.6 680.5L519.1 680.6L520.6 680.7L522.1 680.8L523.6 680.8L525.1 680.9L526.6 680.9L528.1 681.0L529.6 681.0L531.1 681.1L532.6 681.1L534.1 681.2L535.6 681.2L537.1 681.2L538.6 681.3L540.1 681.3L541.6 681.3L543.1 681.3L544.6 681.4L546.1 681.4L547.6 681.4L549.1 681.4L550.6 681.5L552.0 681.5L553.5 681.5L555.0 681.5L556.5 681.6L558.0 681.6L559.5 681.6L561.0 681.6L562.5 681.6L564.0 681.7L565.5 681.7L567.0 681.7L568.5 681.7L570.0 681.8L571.5 681.8L573.0 681.8L574.5 681.9L576.0 681.9L577.5 682.0L579.0 682.0L580.5 682.0L582.0 682.1L583.5 682.1L585.0 682.2L586.5 682.3L588.0 682.3L589.5 682.4L591.0 682.5L592.5 682.6L594.0 682.6L595.5 682.7L597.0 682.8L598.5 682.9L600.0 683.0L960.0 684.0" stroke="#00ff00"/><path d="M101.0 653.0L101.0 651.5L101.0 650.0L101.1 648.5L101.1 647.0L101.1 645.5L101.1 644.0L101.1 642.5L101.2 641.0L101.2 639.5L101.2 638.0L101.3 636.5L101.3 635.0L101.3 633.5L101.3 632.0L101.4 630.5L101.4 629.0L101.5 627.5L101.5 626.0L101.5 624.5L101.6 623.0L101.6 621.5L101.6 620.0L101.7 618.5L101.7 617.0L101.8 615.5L101.8 614.0L101.9 612.6L101.9 611.1L102.0 609.6L102.0 608.1L102.1 606.6L102.1 605.1L102.2 603.6L102.2 602.1L102.3 600.6L102.3 599.1L102.4 597.6L102.4 596.1L102.5 594.6L102.6 593.1L102.6 591.6L102.7 590.1L102.7 588.6L102.8 587.1L102.9 585.6L102.9 584.1L103.0 582.6L103.1 581.1L103.1 579.6L103.2 578.1L103.3 576.6L103.4 575.1L103.4 573.6L103.5 572.1L103.6 570.6L103.6 569.1L103.7 567.6L103.8 566.1L103.9 564.6L104.0 563.1L104.0 561.7L104.1 560.2L104.2 558.7L104.3 557.2L104.4 555.7L104.5 554.2L104.5 552.7L104.6 551.2L104.7 549.7L104.8 548.2L104.9 546.7L105.0 545.2L105.1 543.7L105.2 542.2L105.3 540.7L105.4 539.2L105.5 537.7L105.6 536.2L105.7 534.7L105.8 533.2L105.9 531.7L106.0 530.2L106.1 528.7L106.2 527.3L106.3 525.8L106.4 524.3L106.5 522.8L106.6 521.3L106.7 519.8L106.8 518.3L106.9 516.8L107.0 515.3L107.1 513.8L107.2 512.3L107.3 510.8L107.5 509.3L107.6 507.8L107.7 506.3L107.8 504.8L107.9 503.3L108.0 501.8L108.2 500.4L108.3 498.9L108.4 497.4L108.5 495.9L108.6 494.4L108.8 492.9L108.9 491.4L109.0 489.9L109.1 488.4L109.3 486.9L109.4 485.4L109.5 483.9L109.6 482.4L109.8 480.9L109.9 479.5L110.0 478.0L110.2 476.5L110.3 475.0L110.4 473.5L110.6 472.0L110.7 470.5L110.8 469.0L111.0 467.5L111.1 466.0L111.3 464.5L111.4 463.0L111.5 461.5L111.7 460.1L111.8 458.6L112.0 457.1L112.1 455.6L112.3 454.1L112.4 452.6L112.5 451.1L112.7 449.6L112.8 448.1L113.0 446.6L113.1 445.1L113.3 443.6L113.4 442.2L113.6 440.7L113.8 439.2L113.9 437.7L114.1 436.2L114.2 434.7L114.4 433.2L114.5 431.7L114.7 430.2L114.8 428.7L115.0 427.3L115.2 425.8L115.3 424.3L115.5 422.8L115.6 421.3L115.8 419.8L116.0 418.3L116.1 416.8L116.3 415.3L116.5 413.8L116.6 412.4L116.8 410.9L117.0 409.4L117.1 407.9L117.3 406.4L117.5 404.9L117.7 403.4L117.8 401.9L118.0 400.5L118.2 399.0L118.4 397.5L118.5 396.0L118.7 394.5L118.9 393.0L119.1 391.5L119.2 390.0L119.4 388.5L119.6 387.1L119.8 385.6L120.0 384.1L120.1 382.6L120.3 381.1L120.5 379.6L120.7 378.1L120.9 376.6L121.1 375.2L121.2 373.7L121.4 372.2L121.6 370.7L121.8 369.2L122.0 367.7L122.2 366.2L122.4 364.8L122.6 363.3L122.8 361.8L123.0 360.3L123.1 358.8L123.3 357.3L123.5 355.8L123.7 354.4L123.9 352.9L124.1 351.4L124.4 349.9L124.6 348.4L124.8 346.9L125.0 345.5L125.2 344.0L125.5 342.5L125.7 341.0L126.0 339.5L126.2 338.1L126.5 336.6L126.7 335.1L127.0 333.6L127.3 332.2L127.6 330.7L127.9 329.2L128.2 327.8L128.6 326.3L128.9 324.8L129.2 323.4L129.6 321.9L130.0 320.5L130.4 319.0L130.8 317.6L131.2 316.2L131.6 314.7L132.0 313.3L132.5 311.9L133.0 310.4L133.4 309.0L133.9 307.6L134.5 306.2L135.0 304.8L135.6 303.4L136.3 302.1L137.1 300.8L138.0 299.6L139.0 298.5L140.2 297.6L141.4 296.7L142.7 296.1L144.2 295.6L145.7 295.5L147.2 295.6L148.6 296.0L150.0 296.6L151.3 297.3L152.5 298.2L153.7 299.1L154.7 300.2L155.7 301.3L156.7 302.4L157.6 303.7L158.4 304.9L159.2 306.2L160.0 307.5L160.7 308.8L161.4 310.1L162.2 311.4L162.9 312.7L163.6 314.0L164.2 315.4L164.9 316.7L165.5 318.1L166.1 319.4L166.8 320.8L167.4 322.2L167.9 323.6L168.5 324.9L169.1 326.3L169.6 327.7L170.2 329.1L170.7 330.5L171.2 331.9L171.7 333.3L172.2 334.8L172.7 336.2L173.2 337.6L173.7 339.0L174.2 340.4L174.6 341.8L175.1 343.3L175.6 344.7L176.0 346.1L176.5 347.6L176.9 349.0L177.4 350.4L177.8 351.8L178.3 353.3L178.7 354.7L179.2 356.1L179.6 357.6L180.1 359.0L180.5 360.4L181.0 361.8L181.5 363.3L181.9 364.7L182.4 366.1L182.9 367.5L183.3 369.0L183.8 370.4L184.3 371.8L184.8 373.2L185.3 374.6L185.7 376.1L186.2 377.5L186.7 378.9L187.2 380.3L187.7 381.7L188.2 383.1L188.7 384.5L189.2 385.9L189.7 387.4L190.2 388.8L190.7 390.2L191.2 391.6L191.7 393.0L192.3 394.4L192.8 395.8L193.3 397.2L193.8 398.6L194.3 400.0L194.9 401.4L195.4 402.8L195.9 404.2L196.4 405.6L197.0 407.0L197.5 408.4L198.0 409.8L198.6 411.2L199.1 412.7L199.6 414.0L200.2 415.4L200.7 416.8L201.2 418.2L201.8 419.6L202.3 421.0L202.9 422.4L203.4 423.8L203.9 425.2L204.5 426.6L205.0 428.0L205.6 429.4L206.1 430.8L206.7 432.2L207.2 433.6L207.8 435.0L208.3 436.4L208.9 437.8L209.4 439.2L210.0 440.6L210.5 442.0L211.1 443.4L211.6 444.8L212.2 446.1L212.7 447.5L213.3 448.9L213.8 450.3L214.4 451.7L214.9 453.1L215.5 454.5L216.0 455.9L216.6 457.3L217.1 458.7L217.7 460.1L218.3 461.5L218.8 462.9L219.4 464.3L219.9 465.6L220.5 467.0L221.0 468.4L221.6 469.8L222.1 471.2L222.7 472.6L223.2 474.0L223.8 475.4L224.4 476.8L224.9 478.2L225.5 479.6L226.0 480.9L226.6 482.3L227.2 483.7L227.7 485.1L228.3 486.5L228.9 487.9L229.5 489.3L230.0 490.6L230.6 492.0L231.2 493.4L231.8 494.8L232.4 496.2L232.9 497.6L233.5 498.9L234.1 500.3L234.7 501.7L235.3 503.1L235.9 504.4L236.5 505.8L237.1 507.2L237.7 508.5L238.3 509.9L238.9 511.3L239.6 512.6L240.2 514.0L240.8 515.4L241.4 516.7L242.1 518.1L242.7 519.5L243.3 520.8L244.0 522.2L244.6 523.5L245.3 524.9L245.9 526.2L246.6 527.6L247.3 528.9L247.9 530.2L248.6 531.6L249.3 532.9L249.9 534.2L250.6 535.6L251.3 536.9L252.0 538.2L252.7 539.6L253.4 540.9L254.1 542.2L254.9 543.5L255.6 544.8L256.3 546.1L257.0 547.5L257.8 548.8L258.5 550.1L259.3 551.4L260.0 552.7L260.8 553.9L261.5 555.2L262.3 556.5L263.1 557.8L263.9 559.1L264.7 560.4L265.5 561.6L266.3 562.9L267.1 564.2L267.9 565.4L268.7 566.7L269.5 567.9L270.3 569.2L271.2 570.4L272.0 571.7L272.9 572.9L273.7 574.1L274.6 575.3L275.4 576.6L276.3 577.8L277.2 579.0L278.1 580.2L279.0 581.4L279.9 582.6L280.8 583.8L281.7 585.0L282.6 586.2L283.5 587.4L284.4 588.6L285.4 589.7L286.3 590.9L287.2 592.1L288.2 593.2L289.1 594.4L290.1 595.5L291.1 596.7L292.0 597.8L293.0 599.0L294.0 600.1L295.0 601.2L296.0 602.3L297.0 603.4L298.0 604.5L299.0 605.6L300.1 606.7L301.1 607.8L302.1 608.9L303.2 610.0L304.2 611.1L305.3 612.1L306.3 613.2L307.4 614.2L308.5 615.3L309.5 616.3L310.6 617.3L311.7 618.4L312.8 619.4L313.9 620.4L315.0 621.4L316.1 622.4L317.3 623.4L318.4 624.4L319.5 625.4L320.7 626.3L321.8 627.3L323.0 628.3L324.1 629.2L325.3 630.1L326.5 631.1L327.7 632.0L328.8 632.9L330.0 633.8L331.2 634.7L332.4 635.6L333.7 636.5L334.9 637.4L336.1 638.2L337.3 639.1L338.6 639.9L339.8 640.8L341.1 641.6L342.3 642.4L343.6 643.2L344.8 644.0L346.1 644.8L347.4 645.6L348.7 646.4L350.0 647.1L351.3 647.9L352.6 648.6L353.9 649.4L355.2 650.1L356.5 650.8L357.8 651.5L359.1 652.2L360.5 652.9L361.8 653.5L363.2 654.2L364.5 654.8L365.9 655.5L367.2 656.1L368.6 656.7L370.0 657.3L371.4 657.9L372.7 658.5L374.1 659.0L375.5 659.6L376.9 660.1L378.3 660.7L379.7 661.2L381.1 661.7L382.6 662.2L384.0 662.7L385.4 663.2L386.8 663.6L388.2 664.1L389.7 664.5L391.1 664.9L392.5 665.4L394.0 665.8L395.4 666.2L396.9 666.6L398.3 667.0L399.8 667.3L401.2 667.7L402.7 668.1L404.1 668.4L405.6 668.7L407.1 669.1L408.5 669.4L410.0 669.7L411.5 670.0L412.9 670.3L414.4 670.6L415.9 670.9L417.3 671.2L418.8 671.5L420.3 671.7L421.8 672.0L423.2 672.3L424.7 672.5L426.2 672.7L427.7 673.0L429.2 673.2L430.6 673.4L432.1 673.7L433.6 673.9L435.1 674.1L436.6 674.3L438.0 674.5L439.5 674.7L441.0 674.9L442.5 675.1L444.0 675.3L445.5 675.5L447.0 675.6L448.5 675.8L449.9 676.0L451.4 676.2L452.9 676.3L454.4 676.5L455.9 676.7L457.4 676.8L458.9 677.0L460.4 677.1L461.9 677.3L463.4 677.4L464.8 677.6L466.3 677.7L467.8 677.9L469.3 678.0L470.8 678.2L472.3 678.3L473.8 678.5L475.3 678.6L476.8 678.7L478.3 678.9L479.8 679.0L481.3 679.1L482.7 679.3L484.2 679.4L485.7 679.5L487.2 679.6L488.7 679.7L490.2 679.9L491.7 680.0L493.2 680.1L494.7 680.2L496.2 680.3L497.7 680.4L499.2 680.5L500.7 680.6L502.2 680.7L503.7 680.8L505.2 680.9L506.7 681.0L508.1 681.1L509.6 681.2L511.1 681.3L512.6 681.4L514.1 681.5L515.6 681.6L517.1 681.7L518.6 681.7L520.1 681.8L521.6 681.9L523.1 682.0L524.6 682.0L526.1 682.1L527.6 682.2L529.1 682.2L530.6 682.3L532.1 682.3L533.6 682.4L535.1 682.5L536.6 682.5L538.1 682.6L539.6 682.6L541.1 682.6L542.6 682.7L544.1 682.7L545.6 682.8L547.1 682.8L548.6 682.8L550.1 682.9L551.6 682.9L553.1 682.9L554.6 682.9L556.1 683.0L557.6 683.0L559.1 683.0L560.6 683.0L562.1 683.0L563.6 683.0L565.0 683.0L566.5 683.0L568.0 683.0L569.5 683.0L571.0 683.0L572.5 683.0L574.0 683.0L575.5 683.0L577.0 683.0L578.5 683.0L580.0 683.0L960.0 684.0" stroke="#ff00ff"/><path d="M101.0 653.0L101.0 651.5L101.0 650.0L101.0 648.5L101.0 647.0L101.0 645.5L101.0 644.0L101.0 642.5L101.0 641.0L101.0 639.5L101.0 638.0L101.0 636.5L101.1 635.0L101.1 633.5L101.1 632.0L101.1 630.5L101.2 629.0L101.2 627.5L101.2 626.0L101.3 624.5L101.3 623.0L101.4 621.6L101.4 620.1L101.5 618.6L101.5 617.1L101.6 615.6L101.6 614.1L101.7 612.6L101.7 611.1L101.8 609.6L101.9 608.1L101.9 606.6L102.0 605.1L102.1 603.6L102.2 602.1L102.2 600.6L102.3 599.1L102.4 597.6L102.5 596.1L102.6 594.6L102.6 593.1L102.7 591.6L102.8 590.1L102.9 588.6L103.0 587.1L103.1 585.6L103.2 584.2L103.3 582.7L103.4 581.2L103.5 579.7L103.6 578.2L103.7 576.7L103.8 575.2L103.9 573.7L104.0 572.2L104.1 570.7L104.2 569.2L104.3 567.7L104.4 566.2L104.6 564.7L104.7 563.2L104.8 561.7L104.9 560.2L105.0 558.8L105.1 557.3L105.3 555.8L105.4 554.3L105.5 552.8L105.6 551.3L105.7 549.8L105.9 548.3L106.0 546.8L106.1 545.3L106.2 543.8L106.4 542.3L106.5 540.8L106.6 539.4L106.8 537.9L106.9 536.4L107.0 534.9L107.1 533.4L107.3 531.9L107.4 530.4L107.5 528.9L107.7 527.4L107.8 525.9L107.9 524.4L108.0 522.9L108.2 521.4L108.3 520.0L108.4 518.5L108.6 517.0L108.7 515.5L108.8 514.0L109.0 512.5L109.1 511.0L109.2 509.5L109.4 508.0L109.5 506.5L109.6 505.0L109.7 503.5L109.9 502.0L110.0 500.6L110.1 499.1L110.3 497.6L110.4 496.1L110.5 494.6L110.7 493.1L110.8 491.6L111.0 490.1L111.1 488.6L111.2 487.1L111.4 485.6L111.5 484.1L111.6 482.7L111.8 481.2L111.9 479.7L112.1 478.2L112.2 476.7L112.3 475.2L112.5 473.7L112.6 472.2L112.8 470.7L112.9 469.2L113.1 467.7L113.2 466.3L113.4 464.8L113.5 463.3L113.7 461.8L113.8 460.3L114.0 458.8L114.1 457.3L114.3 455.8L114.5 454.3L114.6 452.8L114.8 451.4L115.0 449.9L115.1 448.4L115.3 446.9L115.5 445.4L115.6 443.9L115.8 442.4L116.0 440.9L116.1 439.5L116.3 438.0L116.5 436.5L116.7 435.0L116.9 433.5L117.0 432.0L117.2 430.5L117.4 429.1L117.6 427.6L117.8 426.1L118.0 424.6L118.2 423.1L118.4 421.6L118.6 420.1L118.8 418.7L119.0 417.2L119.2 415.7L119.4 414.2L119.6 412.7L119.9 411.2L120.1 409.8L120.3 408.3L120.5 406.8L120.7 405.3L121.0 403.8L121.2 402.4L121.4 400.9L121.7 399.4L121.9 397.9L122.2 396.4L122.4 395.0L122.7 393.5L123.0 392.0L123.2 390.5L123.5 389.1L123.8 387.6L124.1 386.1L124.4 384.7L124.7 383.2L125.1 381.8L125.4 380.3L125.8 378.8L126.1 377.4L126.5 375.9L126.9 374.5L127.3 373.0L127.7 371.6L128.1 370.2L128.6 368.7L129.0 367.3L129.5 365.9L130.0 364.5L130.5 363.1L131.0 361.7L131.6 360.3L132.2 358.9L132.7 357.5L133.3 356.1L133.9 354.8L134.6 353.4L135.2 352.1L135.9 350.7L136.7 349.5L137.6 348.3L138.8 347.4L140.2 346.9L141.7 346.8L143.2 347.2L144.6 347.7L145.9 348.4L147.1 349.2L148.3 350.1L149.5 351.1L150.5 352.2L151.5 353.3L152.5 354.4L153.4 355.6L154.3 356.8L155.1 358.1L155.8 359.4L156.5 360.7L157.2 362.1L157.9 363.4L158.5 364.8L159.1 366.1L159.7 367.5L160.3 368.9L160.9 370.2L161.5 371.6L162.1 373.0L162.8 374.3L163.4 375.7L164.0 377.1L164.6 378.5L165.1 379.8L165.7 381.2L166.3 382.6L166.9 384.0L167.5 385.3L168.1 386.7L168.7 388.1L169.3 389.5L169.9 390.8L170.5 392.2L171.0 393.6L171.6 395.0L172.2 396.4L172.8 397.7L173.4 399.1L173.9 400.5L174.5 401.9L175.1 403.3L175.7 404.7L176.2 406.0L176.8 407.4L177.4 408.8L177.9 410.2L178.5 411.6L179.1 413.0L179.6 414.4L180.2 415.8L180.8 417.1L181.3 418.5L181.9 419.9L182.4 421.3L183.0 422.7L183.6 424.1L184.1 425.5L184.7 426.9L185.2 428.3L185.8 429.6L186.3 431.0L186.9 432.4L187.4 433.8L188.0 435.2L188.5 436.6L189.1 438.0L189.6 439.4L190.2 440.8L190.7 442.2L191.3 443.6L191.8 445.0L192.4 446.4L192.9 447.8L193.5 449.2L194.0 450.6L194.5 452.0L195.1 453.4L195.6 454.8L196.2 456.1L196.7 457.5L197.2 458.9L197.8 460.3L198.3 461.7L198.8 463.1L199.4 464.5L199.9 465.9L200.5 467.3L201.0 468.7L201.5 470.1L202.1 471.5L202.6 472.9L203.1 474.3L203.7 475.7L204.2 477.1L204.7 478.5L205.3 479.9L205.8 481.3L206.4 482.7L206.9 484.1L207.4 485.5L208.0 486.9L208.5 488.3L209.1 489.7L209.6 491.1L210.2 492.5L210.7 493.9L211.3 495.3L211.8 496.7L212.4 498.1L212.9 499.4L213.5 500.8L214.0 502.2L214.6 503.6L215.2 505.0L215.7 506.4L216.3 507.8L216.9 509.2L217.5 510.5L218.1 511.9L218.6 513.3L219.2 514.7L219.8 516.0L220.4 517.4L221.0 518.8L221.6 520.2L222.2 521.5L222.8 522.9L223.5 524.3L224.1 525.6L224.7 527.0L225.3 528.3L226.0 529.7L226.6 531.1L227.3 532.4L227.9 533.8L228.6 535.1L229.2 536.4L229.9 537.8L230.6 539.1L231.2 540.5L231.9 541.8L232.6 543.1L233.3 544.5L234.0 545.8L234.7 547.1L235.4 548.4L236.1 549.7L236.8 551.1L237.6 552.4L238.3 553.7L239.1 555.0L239.8 556.3L240.6 557.6L241.3 558.8L242.1 560.1L242.9 561.4L243.6 562.7L244.4 564.0L245.2 565.2L246.0 566.5L246.8 567.8L247.6 569.0L248.5 570.3L249.3 571.5L250.1 572.8L251.0 574.0L251.8 575.2L252.7 576.5L253.5 577.7L254.4 578.9L255.3 580.1L256.2 581.3L257.0 582.6L257.9 583.8L258.8 584.9L259.7 586.1L260.7 587.3L261.6 588.5L262.5 589.7L263.4 590.9L264.4 592.0L265.3 593.2L266.3 594.3L267.2 595.5L268.2 596.6L269.2 597.8L270.1 598.9L271.1 600.0L272.1 601.2L273.1 602.3L274.1 603.4L275.1 604.5L276.2 605.6L277.2 606.7L278.2 607.8L279.2 608.9L280.3 609.9L281.3 611.0L282.4 612.1L283.5 613.1L284.5 614.2L285.6 615.2L286.7 616.2L287.8 617.3L288.9 618.3L290.0 619.3L291.1 620.3L292.2 621.3L293.3 622.3L294.5 623.3L295.6 624.3L296.7 625.2L297.9 626.2L299.0 627.1L300.2 628.1L301.4 629.0L302.5 630.0L303.7 630.9L304.9 631.8L306.1 632.7L307.3 633.6L308.5 634.5L309.7 635.4L310.9 636.2L312.2 637.1L313.4 638.0L314.6 638.8L315.9 639.6L317.1 640.5L318.4 641.3L319.6 642.1L320.9 642.9L322.2 643.7L323.4 644.5L324.7 645.3L326.0 646.0L327.3 646.8L328.6 647.5L329.9 648.2L331.2 649.0L332.5 649.7L333.9 650.4L335.2 651.1L336.5 651.8L337.9 652.4L339.2 653.1L340.6 653.7L341.9 654.4L343.3 655.0L344.6 655.6L346.0 656.2L347.4 656.8L348.8 657.4L350.1 658.0L351.5 658.6L352.9 659.1L354.3 659.6L355.7 660.2L357.1 660.7L358.5 661.2L359.9 661.7L361.4 662.2L362.8 662.7L364.2 663.1L365.6 663.6L367.1 664.0L368.5 664.5L369.9 664.9L371.4 665.3L372.8 665.7L374.3 666.1L375.7 666.5L377.1 666.9L378.6 667.3L380.1 667.6L381.5 668.0L383.0 668.3L384.4 668.7L385.9 669.0L387.3 669.4L388.8 669.7L390.3 670.0L391.7 670.3L393.2 670.6L394.7 670.9L396.1 671.2L397.6 671.5L399.1 671.8L400.5 672.1L402.0 672.4L403.5 672.6L405.0 672.9L406.4 673.2L407.9 673.4L409.4 673.7L410.9 673.9L412.3 674.2L413.8 674.4L415.3 674.7L416.8 674.9L418.2 675.2L419.7 675.4L421.2 675.6L422.7 675.9L424.2 676.1L425.6 676.3L427.1 676.6L428.6 676.8L430.1 677.0L431.6 677.3L433.0 677.5L434.5 677.7L436.0 678.0L437.5 678.2L439.0 678.4L440.4 678.6L441.9 678.9L443.4 679.1L444.9 679.3L446.4 679.6L447.8 679.8L449.3 680.0L450.8 680.3L452.3 680.5L453.8 680.7L455.2 680.9L456.7 681.2L458.2 681.4L459.7 681.6L461.2 681.8L462.7 682.0L464.1 682.1L465.6 682.3L467.1 682.5L468.6 682.6L470.1 682.8L471.6 682.9L473.1 683.0L474.6 683.2L476.1 683.3L477.6 683.4L479.1 683.4L480.6 683.5L482.1 683.5L483.6 683.6L485.1 683.6L486.6 683.6L488.0 683.6L489.5 683.6L491.0 683.5L492.5 683.5L494.0 683.4L495.5 683.3L497.0 683.2L498.5 683.1L500.0 683.0L960.0 684.0" stroke="#00ffff"/></g><path d="M100 651h2v2h-2zM100 641h2v2h-2zM100 631h2v2h-2zM100 621h2v2h-2zM101 611h2v2h-2zM101 602h2v2h-2zM101 592h2v2h-2zM102 582h2v2h-2zM102 572h2v2h-2zM103 562h2v2h-2zM103 552h2v2h-2zM104 542h2v2h-2zM104 532h2v2h-2zM105 522h2v2h-2zM106 513h2v2h-2zM106 503h2v2h-2zM107 493h2v2h-2zM108 483h2v2h-2zM108 473h2v2h-2zM109 463h2v2h-2zM110 453h2v2h-2zM110 443h2v2h-2zM111 434h2v2h-2zM111 424h2v2h-2zM112 414h2v2h-2zM113 404h2v2h-2zM113 394h2v2h-2zM114 384h2v2h-2zM115 374h2v2h-2zM115 364h2v2h-2zM116 354h2v2h-2zM117 345h2v2h-2zM118 335h2v2h-2zM118 325h2v2h-2zM119 315h2v2h-2zM120 305h2v2h-2zM121 295h2v2h-2zM122 285h2v2h-2zM124 276h2v2h-2zM125 266h2v2h-2zM126 256h2v2h-2zM128 246h2v2h-2zM130 237h2v2h-2zM132 227h2v2h-2zM134 217h2v2h-2zM136 208h2v2h-2zM139 198h2v2h-2zM143 189h2v2h-2zM151 183h2v2h-2zM159 186h2v2h-2zM165 194h2v2h-2zM170 203h2v2h-2zM173 212h2v2h-2zM177 221h2v2h-2zM180 231h2v2h-2zM184 240h2v2h-2zM187 250h2v2h-2zM190 259h2v2h-2zM193 268h2v2h-2zM196 278h2v2h-2zM199 287h2v2h-2zM202 297h2v2h-2zM205 306h2v2h-2zM208 316h2v2h-2zM211 325h2v2h-2zM214 334h2v2h-2zM217 344h2v2h-2zM220 353h2v2h-2zM223 363h2v2h-2zM226 372h2v2h-2zM229 382h2v2h-2zM232 391h2v2h-2zM235 400h2v2h-2zM239 410h2v2h-2zM242 419h2v2h-2zM245 428h2v2h-2zM249 438h2v2h-2zM252 447h2v2h-2zM256 456h2v2h-2zM260 465h2v2h-2zM264 474h2v2h-2zM267 483h2v2h-2zM272 492h2v2h-2zM276 501h2v2h-2zM280 510h2v2h-2zM284 519h2v2h-2zM289 528h2v2h-2zM294 537h2v2h-2zM299 545h2v2h-2zM304 554h2v2h-2zM309 562h2v2h-2zM315 570h2v2h-2zM321 578h2v2h-2zM327 586h2v2h-2zM334 593h2v2h-2zM340 600h2v2h-2zM347 607h2v2h-2zM355 614h2v2h-2zM362 620h2v2h-2zM370 626h2v2h-2zM378 632h2v2h-2zM387 637h2v2h-2zM395 642h2v2h-2zM404 646h2v2h-2zM413 650h2v2h-2zM423 654h2v2h-2zM432 657h2v2h-2zM441 660h2v2h-2zM451 663h2v2h-2zM461 665h2v2h-2zM470 668h2v2h-2zM480 669h2v2h-2zM490 671h2v2h-2zM499 673h2v2h-2zM509 674h2v2h-2zM519 675h2v2h-2zM529 676h2v2h-2zM539 677h2v2h-2zM549 678h2v2h-2zM558 679h2v2h-2zM568 679h2v2h-2zM578 680h2v2h-2zM588 680h2v2h-2zM598 680h2v2h-2zM608 681h2v2h-2zM618 681h2v2h-2zM628 681h2v2h-2zM638 681h2v2h-2zM648 682h2v2h-2zM657 682h2v2h-2zM667 682h2v2h-2zM677 682h2v2h-2zM687 682h2v2h-2zM697 683h2v2h-2zM707 683h2v2h-2zM717 683h2v2h-2zM727 683h2v2h-2zM737 683h2v2h-2zM747 683h2v2h-2zM756 683h2v2h-2zM766 683h2v2h-2zM776 683h2v2h-2zM786 683h2v2h-2zM796 683h2v2h-2zM806 683h2v2h-2zM816 683h2v2h-2zM826 683h2v2h-2zM836 683h2v2h-2zM846 683h2v2h-2zM855 683h2v2h-2zM865 683h2v2h-2zM875 683h2v2h-2zM885 683h2v2h-2zM895 683h2v2h-2zM905 683h2v2h-2zM915 683h2v2h-2zM925 683h2v2h-2zM935 683h2v2h-2zM945 683h2v2h-2z" fill="#ff0000"/><path d="M100 651h2v2h-2zM100 641h2v2h-2zM100 631h2v2h-2zM101 621h2v2h-2zM101 611h2v2h-2zM101 602h2v2h-2zM102 592h2v2h-2zM102 582h2v2h-2zM103 572h2v2h-2zM103 562h2v2h-2zM104 552h2v2h-2zM104 542h2v2h-2zM105 532h2v2h-2zM106 522h2v2h-2zM106 513h2v2h-2zM107 503h2v2h-2zM108 493h2v2h-2zM109 483h2v2h-2zM109 473h2v2h-2zM110 463h2v2h-2zM111 453h2v2h-2zM112 443h2v2h-2zM113 434h2v2h-2zM113 424h2v2h-2zM114 414h2v2h-2zM115 404h2v2h-2zM116 394h2v2h-2zM117 384h2v2h-2zM118 374h2v2h-2zM119 365h2v2h-2zM120 355h2v2h-2zM122 345h2v2h-2zM123 335h2v2h-2zM125 325h2v2h-2zM126 316h2v2h-2zM128 306h2v2h-2zM130 296h2v2h-2zM133 287h2v2h-2zM136 277h2v2h-2zM142 270h2v2h-2zM152 269h2v2h-2zM158 276h2v2h-2zM163 285h2v2h-2zM167 294h2v2h-2zM171 303h2v2h-2zM175 312h2v2h-2zM178 322h2v2h-2zM181 331h2v2h-2zM184 340h2v2h-2zM187 350h2v2h-2zM191 359h2v2h-2zM194 368h2v2h-2zM198 378h2v2h-2zM202 387h2v2h-2zM205 396h2v2h-2zM208 405h2v2h-2zM211 415h2v2h-2zM214 424h2v2h-2zM217 434h2v2h-2zM220 443h2v2h-2zM224 452h2v2h-2zM227 462h2v2h-2zM231 471h2v2h-2zM235 480h2v2h-2zM239 489h2v2h-2zM243 498h2v2h-2zM247 507h2v2h-2zM251 516h2v2h-2zM256 525h2v2h-2zM260 534h2v2h-2zM265 542h2v2h-2zM270 551h2v2h-2zM275 560h2v2h-2zM280 568h2v2h-2zM286 576h2v2h-2zM291 584h2v2h-2zM298 592h2v2h-2zM304 599h2v2h-2zM311 607h2v2h-2zM318 614h2v2h-2zM325 620h2v2h-2zM333 627h2v2h-2zM340 633h2v2h-2zM349 638h2v2h-2zM357 643h2v2h-2zM366 648h2v2h-2zM375 652h2v2h-2zM384 655h2v2h-2zM394 659h2v2h-2zM403 662h2v2h-2zM413 664h2v2h-2zM422 667h2v2h-2zM432 669h2v2h-2zM442 671h2v2h-2zM451 673h2v2h-2zM461 674h2v2h-2zM471 675h2v2h-2zM481 676h2v2h-2zM491 677h2v2h-2zM500 678h2v2h-2zM510 679h2v2h-2zM520 679h2v2h-2zM530 680h2v2h-2zM540 680h2v2h-2zM550 680h2v2h-2zM560 680h2v2h-2zM570 680h2v2h-2zM580 681h2v2h-2zM589 681h2v2h-2zM599 681h2v2h-2zM609 681h2v2h-2zM619 682h2v2h-2zM629 682h2v2h-2zM639 683h2v2h-2zM649 683h2v2h-2zM659 683h2v2h-2zM669 683h2v2h-2zM679 683h2v2h-2zM688 683h2v2h-2zM698 683h2v2h-2zM708 683h2v2h-2zM718 683h2v2h-2zM728 683h2v2h-2zM738 683h2v2h-2zM748 683h2v2h-2zM758 683h2v2h-2zM768 683h2v2h-2zM778 683h2v2h-2zM787 683h2v2h-2zM797 683h2v2h-2zM807 683h2v2h-2zM817 683h2v2h-2zM827 683h2v2h-2zM837 683h2v2h-2zM847 683h2v2h-2zM857 683h2v2h-2zM867 683h2v2h-2zM877 683h2v2h-2zM886 683h2v2h-2zM896 683h2v2h-2zM906 683h2v2h-2zM916 683h2v2h-2zM926 683h2v2h-2zM936 683h2v2h-2zM946 683h2v2h-2z" fill="#0000ff"/><path d="M100 651h2v2h-2zM100 641h2v2h-2zM100 631h2v2h-2zM101 621h2v2h-2zM101 611h2v2h-2zM102 602h2v2h-2zM102 592h2v2h-2zM103 582h2v2h-2zM103 572h2v2h-2zM104 562h2v2h-2zM104 552h2v2h-2zM105 542h2v2h-2zM106 532h2v2h-2zM107 522h2v2h-2zM107 513h2v2h-2zM108 503h2v2h-2zM109 493h2v2h-2zM110 483h2v2h-2zM111 473h2v2h-2zM112 463h2v2h-2zM112 453h2v2h-2zM113 444h2v2h-2zM114 434h2v2h-2zM115 424h2v2h-2zM117 414h2v2h-2zM118 404h2v2h-2zM119 394h2v2h-2zM121 385h2v2h-2zM123 375h2v2h-2zM125 365h2v2h-2zM127 356h2v2h-2zM130 346h2v2h-2zM133 337h2v2h-2zM140 329h2v2h-2zM149 331h2v2h-2zM156 337h2v2h-2zM162 346h2v2h-2zM166 355h2v2h-2zM169 364h2v2h-2zM172 373h2v2h-2zM176 383h2v2h-2zM179 392h2v2h-2zM182 401h2v2h-2zM186 411h2v2h-2zM189 420h2v2h-2zM193 429h2v2h-2zM197 438h2v2h-2zM201 447h2v2h-2zM205 456h2v2h-2zM209 465h2v2h-2zM212 475h2v2h-2zM215 484h2v2h-2zM219 493h2v2h-2zM222 503h2v2h-2zM226 512h2v2h-2zM230 521h2v2h-2zM234 530h2v2h-2zM239 538h2v2h-2zM244 547h2v2h-2zM249 555h2v2h-2zM254 564h2v2h-2zM260 572h2v2h-2zM265 581h2v2h-2zM270 589h2v2h-2zM276 597h2v2h-2zM282 604h2v2h-2zM289 612h2v2h-2zM296 619h2v2h-2zM303 625h2v2h-2zM311 632h2v2h-2zM319 637h2v2h-2zM327 643h2v2h-2zM336 648h2v2h-2zM345 652h2v2h-2zM354 657h2v2h-2zM363 660h2v2h-2zM372 664h2v2h-2zM382 667h2v2h-2zM391 669h2v2h-2zM401 671h2v2h-2zM411 673h2v2h-2zM420 674h2v2h-2zM430 675h2v2h-2zM440 676h2v2h-2zM450 677h2v2h-2zM460 678h2v2h-2zM470 679h2v2h-2zM480 679h2v2h-2zM490 680h2v2h-2zM499 680h2v2h-2zM509 681h2v2h-2zM519 681h2v2h-2zM529 681h2v2h-2zM539 681h2v2h-2zM549 682h2v2h-2zM559 682h2v2h-2zM569 682h2v2h-2zM579 682h2v2h-2zM589 682h2v2h-2zM598 683h2v2h-2zM608 683h2v2h-2zM618 683h2v2h-2zM628 683h2v2h-2zM638 683h2v2h-2zM648 683h2v2h-2zM658 683h2v2h-2zM668 683h2v2h-2zM678 683h2v2h-2zM688 683h2v2h-2zM697 683h2v2h-2zM707 683h2v2h-2zM717 683h2v2h-2zM727 683h2v2h-2zM737 683h2v2h-2zM747 683h2v2h-2zM757 683h2v2h-2zM767 683h2v2h-2zM777 683h2v2h-2zM787 683h2v2h-2zM796 683h2v2h-2zM806 683h2v2h-2zM816 683h2v2h-2zM826 683h2v2h-2zM836 683h2v2h-2zM846 683h2v2h-2zM856 683h2v2h-2zM866 683h2v2h-2zM876 683h2v2h-2zM886 683h2v2h-2zM895 683h2v2h-2zM905 683h2v2h-2zM915 683h2v2h-2zM925 683h2v2h-2zM935 683h2v2h-2zM945 683h2v2h-2z" fill="#00ff00"/><path d="M100 651h2v2h-2zM100 641h2v2h-2zM101 631h2v2h-2zM101 621h2v2h-2zM101 611h2v2h-2zM102 602h2v2h-2zM102 592h2v2h-2zM103 582h2v2h-2zM104 572h2v2h-2zM104 562h2v2h-2zM105 552h2v2h-2zM106 542h2v2h-2zM107 532h2v2h-2zM108 523h2v2h-2zM108 513h2v2h-2zM110 503h2v2h-2zM111 493h2v2h-2zM112 483h2v2h-2zM113 473h2v2h-2zM114 464h2v2h-2zM115 454h2v2h-2zM117 444h2v2h-2zM118 434h2v2h-2zM120 424h2v2h-2zM121 415h2v2h-2zM123 405h2v2h-2zM126 395h2v2h-2zM130 386h2v2h-2zM136 378h2v2h-2zM144 377h2v2h-2zM150 385h2v2h-2zM156 393h2v2h-2zM161 402h2v2h-2zM165 411h2v2h-2zM169 420h2v2h-2zM173 429h2v2h-2zM176 438h2v2h-2zM180 447h2v2h-2zM183 457h2v2h-2zM187 466h2v2h-2zM191 475h2v2h-2zM194 484h2v2h-2zM198 493h2v2h-2zM202 502h2v2h-2zM206 512h2v2h-2zM210 521h2v2h-2zM214 529h2v2h-2zM219 538h2v2h-2zM223 547h2v2h-2zM228 556h2v2h-2zM233 564h2v2h-2zM238 573h2v2h-2zM243 581h2v2h-2zM249 590h2v2h-2zM254 598h2v2h-2zM260 605h2v2h-2zM267 613h2v2h-2zM274 620h2v2h-2zM281 627h2v2h-2zM288 633h2v2h-2zM296 639h2v2h-2zM305 645h2v2h-2zM313 650h2v2h-2zM322 654h2v2h-2zM331 659h2v2h-2zM340 662h2v2h-2zM349 666h2v2h-2zM359 669h2v2h-2zM368 671h2v2h-2zM378 673h2v2h-2zM388 674h2v2h-2zM398 676h2v2h-2zM408 677h2v2h-2zM417 678h2v2h-2zM427 678h2v2h-2zM437 679h2v2h-2zM447 680h2v2h-2zM457 680h2v2h-2zM467 680h2v2h-2zM477 681h2v2h-2zM487 681h2v2h-2zM497 681h2v2h-2zM506 682h2v2h-2zM516 682h2v2h-2zM526 682h2v2h-2zM536 682h2v2h-2zM546 682h2v2h-2zM556 682h2v2h-2zM566 682h2v2h-2zM576 682h2v2h-2zM586 682h2v2h-2zM596 682h2v2h-2zM605 682h2v2h-2zM615 682h2v2h-2zM625 682h2v2h-2zM635 682h2v2h-2zM645 682h2v2h-2zM655 682h2v2h-2zM665 682h2v2h-2zM675 682h2v2h-2zM685 682h2v2h-2zM695 682h2v2h-2zM704 682h2v2h-2zM714 682h2v2h-2zM724 682h2v2h-2zM734 682h2v2h-2zM744 683h2v2h-2zM754 683h2v2h-2zM764 683h2v2h-2zM774 683h2v2h-2zM784 683h2v2h-2zM794 683h2v2h-2zM803 683h2v2h-2zM813 683h2v2h-2zM823 683h2v2h-2zM833 683h2v2h-2zM843 683h2v2h-2zM853 683h2v2h-2zM863 683h2v2h-2zM873 683h2v2h-2zM883 683h2v2h-2zM893 683h2v2h-2zM902 683h2v2h-2zM912 683h2v2h-2zM922 683h2v2h-2zM932 683h2v2h-2zM942 683h2v2h-2zM952 683h2v2h-2z" fill="#ff00ff"/><path d="M100 651h2v2h-2zM100 641h2v2h-2zM100 631h2v2h-2zM101 621h2v2h-2zM101 611h2v2h-2zM102 602h2v2h-2zM103 592h2v2h-2zM104 582h2v2h-2zM105 572h2v2h-2zM106 562h2v2h-2zM107 552h2v2h-2zM108 542h2v2h-2zM109 533h2v2h-2zM110 523h2v2h-2zM111 513h2v2h-2zM112 503h2v2h-2zM114 493h2v2h-2zM115 483h2v2h-2zM116 474h2v2h-2zM118 464h2v2h-2zM120 454h2v2h-2zM122 445h2v2h-2zM125 435h2v2h-2zM129 426h2v2h-2zM138 422h2v2h-2zM146 427h2v2h-2zM152 434h2v2h-2zM157 443h2v2h-2zM161 452h2v2h-2zM165 461h2v2h-2zM169 470h2v2h-2zM173 479h2v2h-2zM177 489h2v2h-2zM180 498h2v2h-2zM184 507h2v2h-2zM188 516h2v2h-2zM192 525h2v2h-2zM197 534h2v2h-2zM201 543h2v2h-2zM206 551h2v2h-2zM211 560h2v2h-2zM215 569h2v2h-2zM220 577h2v2h-2zM225 586h2v2h-2zM230 594h2v2h-2zM236 602h2v2h-2zM242 610h2v2h-2zM249 617h2v2h-2zM256 624h2v2h-2zM263 631h2v2h-2zM271 637h2v2h-2zM279 643h2v2h-2zM287 648h2v2h-2zM296 653h2v2h-2zM305 658h2v2h-2zM314 662h2v2h-2zM323 666h2v2h-2zM332 669h2v2h-2zM342 672h2v2h-2zM351 674h2v2h-2zM361 676h2v2h-2zM371 677h2v2h-2zM381 678h2v2h-2zM391 678h2v2h-2zM401 678h2v2h-2zM410 679h2v2h-2zM420 679h2v2h-2zM430 680h2v2h-2zM440 681h2v2h-2zM450 682h2v2h-2zM460 683h2v2h-2zM470 683h2v2h-2zM480 683h2v2h-2zM490 683h2v2h-2zM499 682h2v2h-2zM509 683h2v2h-2zM519 683h2v2h-2zM529 683h2v2h-2zM539 683h2v2h-2zM549 683h2v2h-2zM559 683h2v2h-2zM569 683h2v2h-2zM579 683h2v2h-2zM588 683h2v2h-2zM598 683h2v2h-2zM608 683h2v2h-2zM618 683h2v2h-2zM628 683h2v2h-2zM638 683h2v2h-2zM648 683h2v2h-2zM658 683h2v2h-2zM668 683h2v2h-2zM678 683h2v2h-2zM687 683h2v2h-2zM697 683h2v2h-2zM707 683h2v2h-2zM717 683h2v2h-2zM727 683h2v2h-2zM737 683h2v2h-2zM747 683h2v2h-2zM757 683h2v2h-2zM767 683h2v2h-2zM777 683h2v2h-2zM786 683h2v2h-2zM796 683h2v2h-2zM806 683h2v2h-2zM816 683h2v2h-2zM826 683h2v2h-2zM836 683h2v2h-2zM846 683h2v2h-2zM856 683h2v2h-2zM866 683h2v2h-2zM876 683h2v2h-2zM885 683h2v2h-2zM895 683h2v2h-2zM905 683h2v2h-2zM915 683h2v2h-2zM925 683h2v2h-2zM935 683h2v2h-2zM945 683h2v2h-2z" fill="#00ffff"/>
<g><rect x="700.9" y="683" width="2.0" height="2" fill="#0000ff"/><rect x="702.9" y="683" width="2.0" height="2" fill="#00ffff"/><rect x="704.9" y="683" width="2.0" height="2" fill="#ff00ff"/><rect x="706.9" y="683" width="2.0" height="2" fill="#00ffff"/><rect x="708.9" y="683" width="2.0" height="2" fill="#00ff00"/><rect x="710.8" y="683" width="2.0" height="2" fill="#0000ff"/><rect x="712.8" y="683" width="2.0" height="2" fill="#00ffff"/><rect x="714.8" y="683" width="2.0" height="2" fill="#ff00ff"/><rect x="716.8" y="683" width="2.0" height="2" fill="#00ffff"/><rect x="718.8" y="683" width="2.0" height="2" fill="#00ff00"/><rect x="720.6" y="683" width="2.0" height="2" fill="#0000ff"/><rect x="722.6" y="683" width="2.0" height="2" fill="#00ffff"/><rect x="724.6" y="683" width="2.0" height="2" fill="#ff00ff"/><rect x="726.6" y="683" width="2.0" height="2" fill="#00ffff"/><rect x="728.6" y="683" width="2.0" height="2" fill="#00ff00"/><rect x="730.5" y="683" width="2.0" height="2" fill="#0000ff"/><rect x="732.5" y="683" width="2.0" height="2" fill="#00ffff"/><rect x="734.5" y="683" width="2.0" height="2" fill="#ff00ff"/><rect x="736.5" y="683" width="2.0" height="2" fill="#00ffff"/><rect x="738.5" y="683" width="2.0" height="2" fill="#00ff00"/><rect x="740.3" y="683" width="2.0" height="2" fill="#0000ff"/><rect x="742.3" y="683" width="2.0" height="2" fill="#00ffff"/><rect x="744.3" y="683" width="2.0" height="2" fill="#ff00ff"/><rect x="746.3" y="683" width="2.0" height="2" fill="#00ffff"/><rect x="748.3" y="683" width="2.0" height="2" fill="#00ff00"/><rect x="750.2" y="683" width="2.0" height="2" fill="#0000ff"/><rect x="752.2" y="683" width="2.0" height="2" fill="#00ffff"/><rect x="754.2" y="683" width="2.0" height="2" fill="#ff00ff"/><rect x="756.2" y="683" width="2.0" height="2" fill="#00ffff"/><rect x="758.2" y="683" width="2.0" height="2" fill="#00ff00"/><rect x="760.0" y="683" width="2.0" height="2" fill="#0000ff"/><rect x="762.0" y="683" width="2.0" height="2" fill="#00ffff"/><rect x="764.0" y="683" width="2.0" height="2" fill="#ff00ff"/><rect x="766.0" y="683" width="2.0" height="2" fill="#00ffff"/><rect x="768.0" y="683" width="2.0" height="2" fill="#00ff00"/><rect x="769.9" y="683" width="2.0" height="2" fill="#0000ff"/><rect x="771.9" y="683" width="2.0" height="2" fill="#00ffff"/><rect x="773.9" y="683" width="2.0" height="2" fill="#ff00ff"/><rect x="775.9" y="683" width="2.0" height="2" fill="#00ffff"/><rect x="777.9" y="683" width="2.0" height="2" fill="#00ff00"/><rect x="779.7" y="683" width="2.0" height="2" fill="#0000ff"/><rect x="781.7" y="683" width="2.0" height="2" fill="#00ffff"/><rect x="783.7" y="683" width="2.0" height="2" fill="#ff00ff"/><rect x="785.7" y="683" width="2.0" height="2" fill="#00ffff"/><rect x="787.7" y="683" width="2.0" height="2" fill="#00ff00"/><rect x="789.6" y="683" width="2.0" height="2" fill="#0000ff"/><rect x="791.6" y="683" width="2.0" height="2" fill="#00ffff"/><rect x="793.6" y="683" width="2.0" height="2" fill="#ff00ff"/><rect x="795.6" y="683" width="2.0" height="2" fill="#00ffff"/><rect x="797.6" y="683" width="2.0" height="2" fill="#00ff00"/><rect x="799.4" y="683" width="2.0" height="2" fill="#0000ff"/><rect x="801.4" y="683" width="2.0" height="2" fill="#00ffff"/><rect x="803.4" y="683" width="2.0" height="2" fill="#ff00ff"/><rect x="805.4" y="683" width="2.0" height="2" fill="#00ffff"/><rect x="807.4" y="683" width="2.0" height="2" fill="#00ff00"/><rect x="809.3" y="683" width="2.0" height="2" fill="#0000ff"/><rect x="811.3" y="683" width="2.0" height="2" fill="#00ffff"/><rect x="813.3" y="683" width="2.0" height="2" fill="#ff00ff"/><rect x="815.3" y="683" width="2.0" height="2" fill="#00ffff"/><rect x="817.3" y="683" width="2.0" height="2" fill="#00ff00"/><rect x="819.1" y="683" width="2.0" height="2" fill="#0000ff"/><rect x="821.1" y="683" width="2.0" height="2" fill="#00ffff"/><rect x="823.1" y="683" width="2.0" height="2" fill="#ff00ff"/><rect x="825.1" y="683" width="2.0" height="2" fill="#00ffff"/><rect x="827.1" y="683" width="2.0" height="2" fill="#00ff00"/><rect x="829.0" y="683" width="2.0" height="2" fill="#0000ff"/><rect x="831.0" y="683" width="2.0" height="2" fill="#00ffff"/><rect x="833.0" y="683" width="2.0" height="2" fill="#ff00ff"/><rect x="835.0" y="683" width="2.0" height="2" fill="#00ffff"/><rect x="837.0" y="683" width="2.0" height="2" fill="#00ff00"/><rect x="838.8" y="683" width="2.0" height="2" fill="#0000ff"/><rect x="840.8" y="683" width="2.0" height="2" fill="#00ffff"/><rect x="842.8" y="683" width="2.0" height="2" fill="#ff00ff"/><rect x="844.8" y="683" width="2.0" height="2" fill="#00ffff"/><rect x="846.8" y="683" width="2.0" height="2" fill="#00ff00"/><rect x="848.7" y="683" width="2.0" height="2" fill="#0000ff"/><rect x="850.7" y="683" width="2.0" height="2" fill="#00ffff"/><rect x="852.7" y="683" width="2.0" height="2" fill="#ff00ff"/><rect x="854.7" y="683" width="2.0" height="2" fill="#00ffff"/><rect x="856.7" y="683" width="2.0" height="2" fill="#00ff00"/><rect x="858.5" y="683" width="2.0" height="2" fill="#0000ff"/><rect x="860.5" y="683" width="2.0" height="2" fill="#00ffff"/><rect x="862.5" y="683" width="2.0" height="2" fill="#ff00ff"/><rect x="864.5" y="683" width="2.0" height="2" fill="#00ffff"/><rect x="866.5" y="683" width="2.0" height="2" fill="#00ff00"/><rect x="868.4" y="683" width="2.0" height="2" fill="#0000ff"/><rect x="870.4" y="683" width="2.0" height="2" fill="#00ffff"/><rect x="872.4" y="683" width="2.0" height="2" fill="#ff00ff"/><rect x="874.4" y="683" width="2.0" height="2" fill="#00ffff"/><rect x="876.4" y="683" width="2.0" height="2" fill="#00ff00"/><rect x="878.2" y="683" width="2.0" height="2" fill="#0000ff"/><rect x="880.2" y="683" width="2.0" height="2" fill="#00ffff"/><rect x="882.2" y="683" width="2.0" height="2" fill="#ff00ff"/><rect x="884.2" y="683" width="2.0" height="2" fill="#00ffff"/><rect x="886.2" y="683" width="2.0" height="2" fill="#00ff00"/><rect x="888.1" y="683" width="2.0" height="2" fill="#0000ff"/><rect x="890.1" y="683" width="2.0" height="2" fill="#00ffff"/><rect x="892.1" y="683" width="2.0" height="2" fill="#ff00ff"/><rect x="894.1" y="683" width="2.0" height="2" fill="#00ffff"/><rect x="896.1" y="683" width="2.0" height="2" fill="#00ff00"/><rect x="897.9" y="683" width="2.0" height="2" fill="#0000ff"/><rect x="899.9" y="683" width="2.0" height="2" fill="#00ffff"/><rect x="901.9" y="683" width="2.0" height="2" fill="#ff00ff"/><rect x="903.9" y="683" width="2.0" height="2" fill="#00ffff"/><rect x="905.9" y="683" width="2.0" height="2" fill="#00ff00"/><rect x="907.8" y="683" width="2.0" height="2" fill="#0000ff"/><rect x="909.8" y="683" width="2.0" height="2" fill="#00ffff"/><rect x="911.8" y="683" width="2.0" height="2" fill="#ff00ff"/><rect x="913.8" y="683" width="2.0" height="2" fill="#00ffff"/><rect x="915.8" y="683" width="2.0" height="2" fill="#00ff00"/><rect x="917.6" y="683" width="2.0" height="2" fill="#0000ff"/><rect x="919.6" y="683" width="2.0" height="2" fill="#00ffff"/><rect x="921.6" y="683" width="2.0" height="2" fill="#ff00ff"/><rect x="923.6" y="683" width="2.0" height="2" fill="#00ffff"/><rect x="925.6" y="683" width="2.0" height="2" fill="#00ff00"/><rect x="927.5" y="683" width="2.0" height="2" fill="#0000ff"/><rect x="929.5" y="683" width="2.0" height="2" fill="#00ffff"/><rect x="931.5" y="683" width="2.0" height="2" fill="#ff00ff"/><rect x="933.5" y="683" width="2.0" height="2" fill="#00ffff"/><rect x="935.5" y="683" width="2.0" height="2" fill="#00ff00"/><rect x="937.3" y="683" width="2.0" height="2" fill="#0000ff"/><rect x="939.3" y="683" width="2.0" height="2" fill="#00ffff"/><rect x="941.3" y="683" width="2.0" height="2" fill="#ff00ff"/><rect x="943.3" y="683" width="2.0" height="2" fill="#00ffff"/><rect x="945.3" y="683" width="2.0" height="2" fill="#00ff00"/><rect x="947.2" y="683" width="2.0" height="2" fill="#0000ff"/><rect x="949.2" y="683" width="2.0" height="2" fill="#00ffff"/><rect x="951.2" y="683" width="2.0" height="2" fill="#ff00ff"/><rect x="953.2" y="683" width="0.8" height="2" fill="#00ffff"/></g>
<path d="M312.3 413.8L186.3 553.4" stroke="#000" stroke-width="1.6" fill="none"/>
<path d="M173.3 570.6L183.3 541.0L185.4 541.0L186.4 553.4L199.2 554.8L198.6 557.2Z" fill="#000"/>
<rect x="99.0" y="12.0" width="856.0" height="674.0" fill="none" stroke="#000" stroke-width="2"/>
<g font-family='"Liberation Sans", sans-serif' fill="#000"><text x="0" y="20.3" font-size="27.5" transform="matrix(0.8800,0,0,1,39.82,0)" letter-spacing="0.773">0.06</text><text x="0" y="131.8" font-size="27.5" transform="matrix(0.8800,0,0,1,39.62,0)" letter-spacing="0.848">0.05</text><text x="0" y="242.8" font-size="27.5" transform="matrix(0.8800,0,0,1,39.92,0)" letter-spacing="0.621">0.04</text><text x="0" y="356.8" font-size="27.5" transform="matrix(0.8800,0,0,1,39.62,0)" letter-spacing="0.848">0.03</text><text x="0" y="469.3" font-size="27.5" transform="matrix(0.8800,0,0,1,39.62,0)" letter-spacing="0.848">0.02</text><text x="0" y="582.4" font-size="27.5" transform="matrix(0.8800,0,0,1,39.62,0)" letter-spacing="-0.288">0.01</text><text x="0" y="694.3" font-size="27.5" transform="matrix(0.8714,0,0,1,75.13,0)">0</text><text x="0" y="716.3" font-size="27.5" transform="matrix(0.8571,0,0,1,91.14,0)">0</text><text x="0" y="716.3" font-size="27.5" transform="matrix(1.0000,0,0,1,174.40,0)">1</text><text x="0" y="716.3" font-size="27.5" transform="matrix(0.9231,0,0,1,261.08,0)">2</text><text x="0" y="716.3" font-size="27.5" transform="matrix(0.9231,0,0,1,348.08,0)">3</text><text x="0" y="716.3" font-size="27.5" transform="matrix(0.8000,0,0,1,434.00,0)">4</text><text x="0" y="716.3" font-size="27.5" transform="matrix(0.8571,0,0,1,519.34,0)">5</text><text x="0" y="716.3" font-size="27.5" transform="matrix(0.9231,0,0,1,605.08,0)">6</text><text x="0" y="716.3" font-size="27.5" transform="matrix(0.9231,0,0,1,689.68,0)">7</text><text x="0" y="716.3" font-size="27.5" transform="matrix(0.9231,0,0,1,776.58,0)">8</text><text x="0" y="716.3" font-size="27.5" transform="matrix(0.9231,0,0,1,861.68,0)">9</text><text x="0" y="716.3" font-size="27.5" transform="matrix(0.8800,0,0,1,941.24,0)" letter-spacing="-0.727">10</text><text x="0" y="71.5" font-size="27.5" transform="matrix(0.8800,0,0,1,327.42,0)" letter-spacing="0.616">Solid line:</text><text x="0" y="71.5" font-size="27.5" transform="matrix(0.8800,0,0,1,463.12,0)" letter-spacing="0.994">SWCNT-TiO</text><text x="0" y="83.0" font-size="21" transform="matrix(0.9800,0,0,1,602.42,0)">2</text><text x="0" y="71.5" font-size="27.5" transform="matrix(0.7500,0,0,1,625.00,0)">,</text><text x="0" y="71.5" font-size="27.5" transform="matrix(0.8800,0,0,1,701.44,0)" letter-spacing="1.037">Brick (n = 3.7)</text><text x="0" y="110.6" font-size="27.5" transform="matrix(0.8800,0,0,1,326.54,0)" letter-spacing="0.713">Dotted line:</text><text x="0" y="110.6" font-size="27.5" transform="matrix(0.8800,0,0,1,463.84,0)" letter-spacing="0.965">MWCNT-CoFe</text><text x="0" y="122.3" font-size="21" transform="matrix(0.9800,0,0,1,630.22,0)">3</text><text x="0" y="110.6" font-size="27.5" transform="matrix(0.8684,0,0,1,651.23,0)">O</text><text x="0" y="122.3" font-size="21" transform="matrix(0.9000,0,0,1,670.10,0)">4</text><text x="0" y="110.6" font-size="27.5" transform="matrix(0.7750,0,0,1,683.85,0)">,</text><text x="0" y="110.6" font-size="27.5" transform="matrix(0.8800,0,0,1,697.72,0)" letter-spacing="0.754">Cylinder (n = 4.9)</text><text x="0" y="227.8" font-size="27.5" transform="matrix(0.8800,0,0,1,288.42,0)" letter-spacing="0.932">ε = 1.2, f</text><text x="0" y="239.2" font-size="21" transform="matrix(1.1600,0,0,1,388.60,0)">w</text><text x="0" y="227.8" font-size="27.5" transform="matrix(0.8800,0,0,1,414.82,0)" letter-spacing="1.170">= 0.5, M = 0.5, Ec = 0.5, Rd = 0.5, Re = 1,</text><text x="0" y="272.3" font-size="27.5" transform="matrix(0.8800,0,0,1,287.54,0)" letter-spacing="1.207">Pr = 6.2, nn = 0.5,σ = 1.5, E = 0.1, Sc = 0.9,</text><text x="0" y="406.3" font-size="27.5" transform="matrix(1.0357,0,0,1,343.06,0)">ϕ</text><text x="0" y="418.4" font-size="21" transform="matrix(0.5900,0,0,1,358.11,0)">1</text><text x="0" y="406.3" font-size="27.5" transform="matrix(0.9571,0,0,1,369.54,0)">=</text><text x="0" y="406.3" font-size="27.5" transform="matrix(0.9929,0,0,1,386.91,0)">ϕ</text><text x="0" y="418.4" font-size="21" transform="matrix(0.9800,0,0,1,401.02,0)">2</text><text x="0" y="406.3" font-size="27.5" transform="matrix(1.0071,0,0,1,412.29,0)">=</text><text x="0" y="406.3" font-size="27.5" transform="matrix(0.8800,0,0,1,429.02,0)" letter-spacing="-0.742">0.01</text><text x="0" y="406.3" font-size="27.5" transform="matrix(0.7500,0,0,1,480.50,0)">,</text><text x="0" y="406.3" font-size="27.5" transform="matrix(0.8800,0,0,1,486.12,0)" letter-spacing="0.205">0.03</text><text x="0" y="406.3" font-size="27.5" transform="matrix(0.7500,0,0,1,538.00,0)">,</text><text x="0" y="406.3" font-size="27.5" transform="matrix(0.8800,0,0,1,542.42,0)" letter-spacing="0.924">0.05</text><text x="0" y="406.3" font-size="27.5" transform="matrix(0.7500,0,0,1,595.50,0)">,</text><text x="0" y="406.3" font-size="27.5" transform="matrix(0.8800,0,0,1,599.72,0)" letter-spacing="0.205">0.07</text><text x="0" y="406.3" font-size="27.5" transform="matrix(0.7500,0,0,1,652.50,0)">,</text><text x="0" y="406.3" font-size="27.5" transform="matrix(0.8800,0,0,1,656.82,0)" letter-spacing="0.848">0.09</text><text x="0" y="752.5" font-size="28" transform="matrix(0.9091,0,0,1,519.09,0)">ζ</text><text x="0" y="20.6" font-size="27.5" transform="rotate(-90) matrix(1.0250,0,0,1,-391.30,0)">f</text><text x="0" y="20.6" font-size="27.5" transform="rotate(-90) matrix(0.6667,0,0,1,-374.17,0)">'</text><text x="0" y="20.6" font-size="27.5" transform="rotate(-90) matrix(0.7125,0,0,1,-352.01,0)">(</text><text x="0" y="25.6" font-size="27.5" transform="rotate(-90) matrix(1.0154,0,0,1,-342.32,0)">η</text><text x="0" y="20.6" font-size="27.5" transform="rotate(-90) matrix(0.6250,0,0,1,-317.50,0)">)</text></g>
</svg></body></html>
